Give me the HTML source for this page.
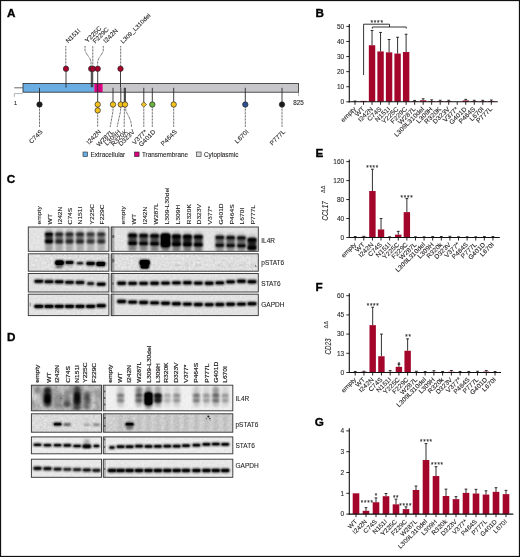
<!DOCTYPE html>
<html><head><meta charset="utf-8"><title>Figure</title>
<style>html,body{margin:0;padding:0;background:#fff;}svg{display:block;font-family:"Liberation Sans",sans-serif;}text{stroke:#231f20;stroke-width:0.1px;}</style>
</head><body>
<svg width="520" height="557" viewBox="0 0 520 557">
<defs>
<filter id="b1" x="-50%" y="-50%" width="200%" height="200%"><feGaussianBlur stdDeviation="0.9"/></filter>
<filter id="b2" x="-50%" y="-50%" width="200%" height="200%"><feGaussianBlur stdDeviation="1.5"/></filter>
<filter id="b0" x="-50%" y="-50%" width="200%" height="200%"><feGaussianBlur stdDeviation="0.6"/></filter>
</defs>
<rect x="0" y="0" width="520" height="557" fill="#fff"/>
<g opacity="0.999">
<rect x="0.5" y="0.5" width="519" height="556" fill="none" stroke="#111" stroke-width="1.25"/>
<text x="6.9" y="16.8" font-size="11.7" font-weight="bold" fill="#000" style="stroke:#000;stroke-width:0.35px">A</text>
<text x="315.6" y="16.8" font-size="11.7" font-weight="bold" fill="#000" style="stroke:#000;stroke-width:0.35px">B</text>
<text x="6.8" y="183.4" font-size="11.7" font-weight="bold" fill="#000" style="stroke:#000;stroke-width:0.35px">C</text>
<text x="6.9" y="341.3" font-size="11.7" font-weight="bold" fill="#000" style="stroke:#000;stroke-width:0.35px">D</text>
<text x="315.4" y="156.9" font-size="11.7" font-weight="bold" fill="#000" style="stroke:#000;stroke-width:0.35px">E</text>
<text x="315.5" y="291.3" font-size="11.7" font-weight="bold" fill="#000" style="stroke:#000;stroke-width:0.35px">F</text>
<text x="314.8" y="426" font-size="11.7" font-weight="bold" fill="#000" style="stroke:#000;stroke-width:0.35px">G</text>
<line x1="14.3" y1="87.8" x2="23" y2="87.8" stroke="#444" stroke-width="0.8"/>
<polyline points="14.3,97 14.3,93.6 22.8,93.6" fill="none" stroke="#444" stroke-width="0.4"/>
<text x="14" y="104.6" font-size="5.5" fill="#231f20">1</text>
<rect x="23" y="83.4" width="71.3" height="8.799999999999997" fill="#69ade2"/>
<rect x="94.3" y="83.4" width="8.5" height="8.799999999999997" fill="#d6007f"/>
<rect x="102.8" y="83.4" width="195.7" height="8.799999999999997" fill="#c7c6cb"/>
<rect x="23" y="83.4" width="275.5" height="8.799999999999997" fill="none" stroke="#2a2a2a" stroke-width="0.8"/>
<line x1="298.5" y1="92.2" x2="298.5" y2="96" stroke="#444" stroke-width="0.4"/>
<text x="293.3" y="104.7" font-size="6.3" fill="#231f20">825</text>
<line x1="66" y1="68.8" x2="66" y2="87.6" stroke="#2a2a2a" stroke-width="0.9"/>
<line x1="91.3" y1="68.8" x2="91.3" y2="87.3" stroke="#2a2a2a" stroke-width="1.0"/>
<line x1="92.7" y1="68.8" x2="92.7" y2="87.3" stroke="#2a2a2a" stroke-width="1.0"/>
<line x1="97.7" y1="68.8" x2="97.7" y2="110.5" stroke="#2a2a2a" stroke-width="0.9"/>
<line x1="120.5" y1="68.8" x2="120.5" y2="87.6" stroke="#2a2a2a" stroke-width="0.9"/>
<line x1="39.5" y1="87.8" x2="39.5" y2="104.5" stroke="#2a2a2a" stroke-width="0.9"/>
<line x1="113" y1="87.8" x2="113" y2="104.5" stroke="#2a2a2a" stroke-width="0.9"/>
<line x1="120.8" y1="87.8" x2="120.8" y2="104.5" stroke="#2a2a2a" stroke-width="0.9"/>
<line x1="124.3" y1="87.8" x2="124.3" y2="104.5" stroke="#2a2a2a" stroke-width="1.0"/>
<line x1="125.3" y1="87.8" x2="125.3" y2="104.5" stroke="#2a2a2a" stroke-width="1.0"/>
<line x1="143.8" y1="87.8" x2="143.8" y2="104.5" stroke="#2a2a2a" stroke-width="0.9"/>
<line x1="152.3" y1="87.8" x2="152.3" y2="104.5" stroke="#2a2a2a" stroke-width="0.9"/>
<line x1="173.7" y1="87.8" x2="173.7" y2="104.5" stroke="#2a2a2a" stroke-width="0.9"/>
<line x1="245.3" y1="87.8" x2="245.3" y2="104.5" stroke="#2a2a2a" stroke-width="0.9"/>
<line x1="282" y1="87.8" x2="282" y2="104.5" stroke="#2a2a2a" stroke-width="0.9"/>
<circle cx="66" cy="68.8" r="2.7" fill="#a9002b" stroke="#2a2a2a" stroke-width="0.7"/>
<circle cx="91.2" cy="68.8" r="2.7" fill="#a9002b" stroke="#2a2a2a" stroke-width="0.7"/>
<circle cx="92.9" cy="68.8" r="2.7" fill="#a9002b" stroke="#2a2a2a" stroke-width="0.7"/>
<circle cx="97.7" cy="68.8" r="2.7" fill="#a9002b" stroke="#2a2a2a" stroke-width="0.7"/>
<circle cx="120.5" cy="68.8" r="2.7" fill="#a9002b" stroke="#2a2a2a" stroke-width="0.7"/>
<circle cx="39.5" cy="104.5" r="2.7" fill="#1a1a1a" stroke="#2a2a2a" stroke-width="0.7"/>
<circle cx="97.7" cy="104.5" r="2.7" fill="#f5c31c" stroke="#2a2a2a" stroke-width="0.7"/>
<circle cx="97.7" cy="110.4" r="2.7" fill="#f5c31c" stroke="#2a2a2a" stroke-width="0.7"/>
<circle cx="113" cy="104.5" r="2.7" fill="#f5c31c" stroke="#2a2a2a" stroke-width="0.7"/>
<circle cx="120.8" cy="104.5" r="2.7" fill="#f5c31c" stroke="#2a2a2a" stroke-width="0.7"/>
<circle cx="125" cy="104.5" r="2.7" fill="#f5c31c" stroke="#2a2a2a" stroke-width="0.7"/>
<path d="M143.8,101.9 L146.6,104.5 L143.8,107.1 L141,104.5 Z" fill="#f5c31c" stroke="#2a2a2a" stroke-width="0.6"/>
<circle cx="152.3" cy="104.5" r="2.7" fill="#6cb33f" stroke="#2a2a2a" stroke-width="0.7"/>
<circle cx="173.7" cy="104.5" r="2.7" fill="#f5c31c" stroke="#2a2a2a" stroke-width="0.7"/>
<circle cx="245.3" cy="104.5" r="2.7" fill="#2d4f8e" stroke="#2a2a2a" stroke-width="0.7"/>
<circle cx="282" cy="104.5" r="2.7" fill="#1a1a1a" stroke="#2a2a2a" stroke-width="0.7"/>
<path d="M65.8,65.8 L65.8,46" fill="none" stroke="#111" stroke-width="0.8" stroke-dasharray="0.8,0.65"/>
<path d="M85,46 L85,50 C85.4,54 90.4,57 91,62 L91,65.5" fill="none" stroke="#111" stroke-width="0.8" stroke-dasharray="0.8,0.65"/>
<path d="M92.8,65.5 L92.8,46" fill="none" stroke="#111" stroke-width="0.8" stroke-dasharray="0.8,0.65"/>
<path d="M103.3,46 L103.3,50 C103,54 98.2,57 97.7,62 L97.7,65.5" fill="none" stroke="#111" stroke-width="0.8" stroke-dasharray="0.8,0.65"/>
<path d="M120.7,65.8 L120.7,46" fill="none" stroke="#111" stroke-width="0.8" stroke-dasharray="0.8,0.65"/>
<text transform="translate(68.2,43.6) rotate(-45) scale(1.07,1)" text-anchor="start" font-size="6.20" fill="#231f20">N151I</text>
<text transform="translate(87.6,43.0) rotate(-45) scale(1.07,1)" text-anchor="start" font-size="6.20" fill="#231f20">Y225C</text>
<text transform="translate(95.2,43.8) rotate(-45) scale(1.07,1)" text-anchor="start" font-size="6.20" fill="#231f20">F229C</text>
<text transform="translate(105.8,43.6) rotate(-45) scale(1.07,1)" text-anchor="start" font-size="6.20" fill="#231f20">I242N</text>
<text transform="translate(123.0,43.8) rotate(-45) scale(1.07,1)" text-anchor="start" font-size="5.83" fill="#231f20">L309_L310del</text>
<path d="M39.5,107.5 L39.5,127" fill="none" stroke="#111" stroke-width="0.8" stroke-dasharray="0.8,0.65"/>
<path d="M97.7,113.5 L97.7,127" fill="none" stroke="#111" stroke-width="0.8" stroke-dasharray="0.8,0.65"/>
<path d="M113,107.5 L113,111 L110.2,127" fill="none" stroke="#111" stroke-width="0.8" stroke-dasharray="0.8,0.65"/>
<path d="M120.6,107.5 L120.6,111 L117.1,127" fill="none" stroke="#111" stroke-width="0.8" stroke-dasharray="0.8,0.65"/>
<path d="M124.4,107.5 L124.2,127" fill="none" stroke="#111" stroke-width="0.8" stroke-dasharray="0.8,0.65"/>
<path d="M125.6,107.5 L125.8,111 C129,117 131.5,121 131.5,127" fill="none" stroke="#111" stroke-width="0.8" stroke-dasharray="0.8,0.65"/>
<path d="M143.8,107.5 L143.8,127" fill="none" stroke="#111" stroke-width="0.8" stroke-dasharray="0.8,0.65"/>
<path d="M152.3,107.5 L152.3,127" fill="none" stroke="#111" stroke-width="0.8" stroke-dasharray="0.8,0.65"/>
<path d="M173.7,107.5 L173.7,127" fill="none" stroke="#111" stroke-width="0.8" stroke-dasharray="0.8,0.65"/>
<path d="M245.3,107.5 L245.3,127" fill="none" stroke="#111" stroke-width="0.8" stroke-dasharray="0.8,0.65"/>
<path d="M282,107.5 L282,127" fill="none" stroke="#111" stroke-width="0.8" stroke-dasharray="0.8,0.65"/>
<text transform="translate(43.2,132.2) rotate(-45) scale(1.07,1)" text-anchor="end" font-size="6.20" fill="#231f20">C74S</text>
<text transform="translate(101.4,132.2) rotate(-45) scale(1.07,1)" text-anchor="end" font-size="6.20" fill="#231f20">I242N</text>
<text transform="translate(113.9,132.2) rotate(-45) scale(1.07,1)" text-anchor="end" font-size="6.20" fill="#231f20">W287L</text>
<text transform="translate(120.8,132.2) rotate(-45) scale(1.07,1)" text-anchor="end" font-size="6.20" fill="#231f20">L309H</text>
<text transform="translate(127.9,132.2) rotate(-45) scale(1.07,1)" text-anchor="end" font-size="6.20" fill="#231f20">R320K</text>
<text transform="translate(135.2,132.2) rotate(-45) scale(1.07,1)" text-anchor="end" font-size="6.20" fill="#231f20">D323V</text>
<text transform="translate(147.5,132.2) rotate(-45) scale(1.07,1)" text-anchor="end" font-size="6.20" fill="#231f20">V377*</text>
<text transform="translate(156.0,132.2) rotate(-45) scale(1.07,1)" text-anchor="end" font-size="6.20" fill="#231f20">G401D</text>
<text transform="translate(177.39999999999998,132.2) rotate(-45) scale(1.07,1)" text-anchor="end" font-size="6.20" fill="#231f20">P464S</text>
<text transform="translate(249.0,132.2) rotate(-45) scale(1.07,1)" text-anchor="end" font-size="6.20" fill="#231f20">L670I</text>
<text transform="translate(285.7,132.2) rotate(-45) scale(1.07,1)" text-anchor="end" font-size="6.20" fill="#231f20">P777L</text>
<rect x="83" y="152" width="4.6" height="4.6" fill="#69ade2" stroke="#2a2a2a" stroke-width="0.6"/>
<text x="90.5" y="157" font-size="6.3" fill="#231f20">Extracellular</text>
<rect x="134.5" y="152" width="4.6" height="4.6" fill="#d6007f" stroke="#2a2a2a" stroke-width="0.6"/>
<text x="142.0" y="157" font-size="6.3" fill="#231f20">Transmembrane</text>
<rect x="196.5" y="152" width="4.6" height="4.6" fill="#d8d8db" stroke="#2a2a2a" stroke-width="0.6"/>
<text x="204.0" y="157" font-size="6.3" fill="#231f20">Cytoplasmic</text>
<line x1="346.3" y1="101.8" x2="349.3" y2="101.8" stroke="#111" stroke-width="0.9"/>
<text x="344.2" y="104.0" text-anchor="end" font-size="6.5" fill="#231f20">0</text>
<line x1="346.3" y1="86.72" x2="349.3" y2="86.72" stroke="#111" stroke-width="0.9"/>
<text x="344.2" y="88.92" text-anchor="end" font-size="6.5" fill="#231f20">10</text>
<line x1="346.3" y1="71.64" x2="349.3" y2="71.64" stroke="#111" stroke-width="0.9"/>
<text x="344.2" y="73.84" text-anchor="end" font-size="6.5" fill="#231f20">20</text>
<line x1="346.3" y1="56.559999999999995" x2="349.3" y2="56.559999999999995" stroke="#111" stroke-width="0.9"/>
<text x="344.2" y="58.76" text-anchor="end" font-size="6.5" fill="#231f20">30</text>
<line x1="346.3" y1="41.48" x2="349.3" y2="41.48" stroke="#111" stroke-width="0.9"/>
<text x="344.2" y="43.68" text-anchor="end" font-size="6.5" fill="#231f20">40</text>
<line x1="346.3" y1="26.39999999999999" x2="349.3" y2="26.39999999999999" stroke="#111" stroke-width="0.9"/>
<text x="344.2" y="28.59999999999999" text-anchor="end" font-size="6.5" fill="#231f20">50</text>
<line x1="355.0" y1="101.8" x2="355.0" y2="104.8" stroke="#111" stroke-width="0.9"/>
<rect x="351.8" y="101.57379999999999" width="6.4" height="0.22619999999999998" fill="#a4062b"/>
<line x1="355.0" y1="101.57379999999999" x2="355.0" y2="101.04599999999999" stroke="#1a1a1a" stroke-width="0.9"/>
<line x1="353.6" y1="101.04599999999999" x2="356.4" y2="101.04599999999999" stroke="#1a1a1a" stroke-width="0.9"/>
<text transform="translate(356.4,109.39999999999999) rotate(-45) scale(1.07,1)" text-anchor="end" font-size="6.39" fill="#231f20">empty</text>
<line x1="363.52" y1="101.8" x2="363.52" y2="104.8" stroke="#111" stroke-width="0.9"/>
<rect x="360.32" y="100.8952" width="6.4" height="0.9047999999999999" fill="#a4062b"/>
<text transform="translate(364.91999999999996,109.39999999999999) rotate(-45) scale(1.07,1)" text-anchor="end" font-size="6.39" fill="#231f20">WT</text>
<line x1="372.04" y1="101.8" x2="372.04" y2="104.8" stroke="#111" stroke-width="0.9"/>
<rect x="368.84000000000003" y="45.25" width="6.4" height="56.55" fill="#a4062b"/>
<line x1="372.04" y1="45.25" x2="372.04" y2="30.471599999999995" stroke="#1a1a1a" stroke-width="0.9"/>
<line x1="370.64000000000004" y1="30.471599999999995" x2="373.44" y2="30.471599999999995" stroke="#1a1a1a" stroke-width="0.9"/>
<text transform="translate(373.44,109.39999999999999) rotate(-45) scale(1.07,1)" text-anchor="end" font-size="6.39" fill="#231f20">I242N</text>
<line x1="380.56" y1="101.8" x2="380.56" y2="104.8" stroke="#111" stroke-width="0.9"/>
<rect x="377.36" y="51.4328" width="6.4" height="50.3672" fill="#a4062b"/>
<line x1="380.56" y1="51.4328" x2="380.56" y2="32.432" stroke="#1a1a1a" stroke-width="0.9"/>
<line x1="379.16" y1="32.432" x2="381.96" y2="32.432" stroke="#1a1a1a" stroke-width="0.9"/>
<text transform="translate(381.96,109.39999999999999) rotate(-45) scale(1.07,1)" text-anchor="end" font-size="6.39" fill="#231f20">C74S</text>
<line x1="389.08" y1="101.8" x2="389.08" y2="104.8" stroke="#111" stroke-width="0.9"/>
<rect x="385.88" y="52.3376" width="6.4" height="49.462399999999995" fill="#a4062b"/>
<line x1="389.08" y1="52.3376" x2="389.08" y2="39.519600000000004" stroke="#1a1a1a" stroke-width="0.9"/>
<line x1="387.68" y1="39.519600000000004" x2="390.47999999999996" y2="39.519600000000004" stroke="#1a1a1a" stroke-width="0.9"/>
<text transform="translate(390.47999999999996,109.39999999999999) rotate(-45) scale(1.07,1)" text-anchor="end" font-size="6.39" fill="#231f20">N151I</text>
<line x1="397.6" y1="101.8" x2="397.6" y2="104.8" stroke="#111" stroke-width="0.9"/>
<rect x="394.40000000000003" y="53.544" width="6.4" height="48.256" fill="#a4062b"/>
<line x1="397.6" y1="53.544" x2="397.6" y2="37.2576" stroke="#1a1a1a" stroke-width="0.9"/>
<line x1="396.20000000000005" y1="37.2576" x2="399.0" y2="37.2576" stroke="#1a1a1a" stroke-width="0.9"/>
<text transform="translate(399.0,109.39999999999999) rotate(-45) scale(1.07,1)" text-anchor="end" font-size="6.39" fill="#231f20">Y225C</text>
<line x1="406.12" y1="101.8" x2="406.12" y2="104.8" stroke="#111" stroke-width="0.9"/>
<rect x="402.92" y="52.035999999999994" width="6.4" height="49.764" fill="#a4062b"/>
<line x1="406.12" y1="52.035999999999994" x2="406.12" y2="34.241600000000005" stroke="#1a1a1a" stroke-width="0.9"/>
<line x1="404.72" y1="34.241600000000005" x2="407.52" y2="34.241600000000005" stroke="#1a1a1a" stroke-width="0.9"/>
<text transform="translate(407.52,109.39999999999999) rotate(-45) scale(1.07,1)" text-anchor="end" font-size="6.39" fill="#231f20">F229C</text>
<line x1="414.64" y1="101.8" x2="414.64" y2="104.8" stroke="#111" stroke-width="0.9"/>
<rect x="411.44" y="101.3476" width="6.4" height="0.45239999999999997" fill="#a4062b"/>
<line x1="414.64" y1="101.3476" x2="414.64" y2="100.44279999999999" stroke="#1a1a1a" stroke-width="0.9"/>
<line x1="413.24" y1="100.44279999999999" x2="416.03999999999996" y2="100.44279999999999" stroke="#1a1a1a" stroke-width="0.9"/>
<text transform="translate(416.03999999999996,109.39999999999999) rotate(-45) scale(1.07,1)" text-anchor="end" font-size="6.39" fill="#231f20">W287L</text>
<line x1="423.15999999999997" y1="101.8" x2="423.15999999999997" y2="104.8" stroke="#111" stroke-width="0.9"/>
<rect x="419.96" y="100.292" width="6.4" height="1.508" fill="#a4062b"/>
<line x1="423.15999999999997" y1="100.292" x2="423.15999999999997" y2="98.78399999999999" stroke="#1a1a1a" stroke-width="0.9"/>
<line x1="421.76" y1="98.78399999999999" x2="424.55999999999995" y2="98.78399999999999" stroke="#1a1a1a" stroke-width="0.9"/>
<text transform="translate(424.55999999999995,109.39999999999999) rotate(-45) scale(1.07,1)" text-anchor="end" font-size="6.39" fill="#231f20">L309L310del</text>
<line x1="431.68" y1="101.8" x2="431.68" y2="104.8" stroke="#111" stroke-width="0.9"/>
<rect x="428.48" y="101.04599999999999" width="6.4" height="0.754" fill="#a4062b"/>
<line x1="431.68" y1="101.04599999999999" x2="431.68" y2="99.83959999999999" stroke="#1a1a1a" stroke-width="0.9"/>
<line x1="430.28000000000003" y1="99.83959999999999" x2="433.08" y2="99.83959999999999" stroke="#1a1a1a" stroke-width="0.9"/>
<text transform="translate(433.08,109.39999999999999) rotate(-45) scale(1.07,1)" text-anchor="end" font-size="6.39" fill="#231f20">L309H</text>
<line x1="440.2" y1="101.8" x2="440.2" y2="104.8" stroke="#111" stroke-width="0.9"/>
<rect x="437.0" y="101.1968" width="6.4" height="0.6032000000000001" fill="#a4062b"/>
<line x1="440.2" y1="101.1968" x2="440.2" y2="100.292" stroke="#1a1a1a" stroke-width="0.9"/>
<line x1="438.8" y1="100.292" x2="441.59999999999997" y2="100.292" stroke="#1a1a1a" stroke-width="0.9"/>
<text transform="translate(441.59999999999997,109.39999999999999) rotate(-45) scale(1.07,1)" text-anchor="end" font-size="6.39" fill="#231f20">R320K</text>
<line x1="448.72" y1="101.8" x2="448.72" y2="104.8" stroke="#111" stroke-width="0.9"/>
<rect x="445.52000000000004" y="101.1968" width="6.4" height="0.6032000000000001" fill="#a4062b"/>
<line x1="448.72" y1="101.1968" x2="448.72" y2="100.292" stroke="#1a1a1a" stroke-width="0.9"/>
<line x1="447.32000000000005" y1="100.292" x2="450.12" y2="100.292" stroke="#1a1a1a" stroke-width="0.9"/>
<text transform="translate(450.12,109.39999999999999) rotate(-45) scale(1.07,1)" text-anchor="end" font-size="6.39" fill="#231f20">D323V</text>
<line x1="457.24" y1="101.8" x2="457.24" y2="104.8" stroke="#111" stroke-width="0.9"/>
<text transform="translate(458.64,109.39999999999999) rotate(-45) scale(1.07,1)" text-anchor="end" font-size="6.39" fill="#231f20">V377*</text>
<line x1="465.76" y1="101.8" x2="465.76" y2="104.8" stroke="#111" stroke-width="0.9"/>
<rect x="462.56" y="100.44279999999999" width="6.4" height="1.3572" fill="#a4062b"/>
<line x1="465.76" y1="100.44279999999999" x2="465.76" y2="99.38719999999999" stroke="#1a1a1a" stroke-width="0.9"/>
<line x1="464.36" y1="99.38719999999999" x2="467.15999999999997" y2="99.38719999999999" stroke="#1a1a1a" stroke-width="0.9"/>
<text transform="translate(467.15999999999997,109.39999999999999) rotate(-45) scale(1.07,1)" text-anchor="end" font-size="6.39" fill="#231f20">G401D</text>
<line x1="474.28" y1="101.8" x2="474.28" y2="104.8" stroke="#111" stroke-width="0.9"/>
<rect x="471.08" y="101.1968" width="6.4" height="0.6032000000000001" fill="#a4062b"/>
<line x1="474.28" y1="101.1968" x2="474.28" y2="100.292" stroke="#1a1a1a" stroke-width="0.9"/>
<line x1="472.88" y1="100.292" x2="475.67999999999995" y2="100.292" stroke="#1a1a1a" stroke-width="0.9"/>
<text transform="translate(475.67999999999995,109.39999999999999) rotate(-45) scale(1.07,1)" text-anchor="end" font-size="6.39" fill="#231f20">P464S</text>
<line x1="482.8" y1="101.8" x2="482.8" y2="104.8" stroke="#111" stroke-width="0.9"/>
<rect x="479.6" y="101.1968" width="6.4" height="0.6032000000000001" fill="#a4062b"/>
<line x1="482.8" y1="101.1968" x2="482.8" y2="100.292" stroke="#1a1a1a" stroke-width="0.9"/>
<line x1="481.40000000000003" y1="100.292" x2="484.2" y2="100.292" stroke="#1a1a1a" stroke-width="0.9"/>
<text transform="translate(484.2,109.39999999999999) rotate(-45) scale(1.07,1)" text-anchor="end" font-size="6.39" fill="#231f20">L670I</text>
<line x1="491.32" y1="101.8" x2="491.32" y2="104.8" stroke="#111" stroke-width="0.9"/>
<rect x="488.12" y="101.04599999999999" width="6.4" height="0.754" fill="#a4062b"/>
<line x1="491.32" y1="101.04599999999999" x2="491.32" y2="99.9904" stroke="#1a1a1a" stroke-width="0.9"/>
<line x1="489.92" y1="99.9904" x2="492.71999999999997" y2="99.9904" stroke="#1a1a1a" stroke-width="0.9"/>
<text transform="translate(492.71999999999997,109.39999999999999) rotate(-45) scale(1.07,1)" text-anchor="end" font-size="6.39" fill="#231f20">P777L</text>
<line x1="349.3" y1="24" x2="349.3" y2="102.39999999999999" stroke="#111" stroke-width="1.1"/>
<line x1="348.75" y1="101.8" x2="497.8" y2="101.8" stroke="#111" stroke-width="1.1"/>
<polyline points="363.6,75 363.6,24.2 389.5,24.2 389.5,27" fill="none" stroke="#111" stroke-width="0.85"/>
<polyline points="372.3,28.6 372.3,27 406.2,27 406.2,28.6" fill="none" stroke="#111" stroke-width="0.85"/>
<text x="377.1" y="24.9" text-anchor="middle" font-size="6.6" fill="#231f20" letter-spacing="0.75">****</text>
<line x1="346.3" y1="237.5" x2="349.3" y2="237.5" stroke="#111" stroke-width="0.9"/>
<text x="344.2" y="239.7" text-anchor="end" font-size="6.5" fill="#231f20">0</text>
<line x1="346.3" y1="218.53" x2="349.3" y2="218.53" stroke="#111" stroke-width="0.9"/>
<text x="344.2" y="220.73" text-anchor="end" font-size="6.5" fill="#231f20">40</text>
<line x1="346.3" y1="199.56" x2="349.3" y2="199.56" stroke="#111" stroke-width="0.9"/>
<text x="344.2" y="201.76" text-anchor="end" font-size="6.5" fill="#231f20">80</text>
<line x1="346.3" y1="180.59" x2="349.3" y2="180.59" stroke="#111" stroke-width="0.9"/>
<text x="344.2" y="182.79" text-anchor="end" font-size="6.5" fill="#231f20">120</text>
<line x1="346.3" y1="161.62" x2="349.3" y2="161.62" stroke="#111" stroke-width="0.9"/>
<text x="344.2" y="163.82" text-anchor="end" font-size="6.5" fill="#231f20">160</text>
<line x1="355.2" y1="237.5" x2="355.2" y2="240.5" stroke="#111" stroke-width="0.9"/>
<rect x="352.0" y="237.262875" width="6.4" height="0.23712499999999997" fill="#a4062b"/>
<line x1="355.2" y1="237.262875" x2="355.2" y2="236.5515" stroke="#1a1a1a" stroke-width="0.9"/>
<line x1="353.8" y1="236.5515" x2="356.59999999999997" y2="236.5515" stroke="#1a1a1a" stroke-width="0.9"/>
<text transform="translate(356.59999999999997,245.0) rotate(-45) scale(1.07,1)" text-anchor="end" font-size="6.30" fill="#231f20">empty</text>
<line x1="363.81" y1="237.5" x2="363.81" y2="240.5" stroke="#111" stroke-width="0.9"/>
<rect x="360.61" y="236.788625" width="6.4" height="0.7113749999999999" fill="#a4062b"/>
<line x1="363.81" y1="236.788625" x2="363.81" y2="236.314375" stroke="#1a1a1a" stroke-width="0.9"/>
<line x1="362.41" y1="236.314375" x2="365.21" y2="236.314375" stroke="#1a1a1a" stroke-width="0.9"/>
<text transform="translate(365.21,245.0) rotate(-45) scale(1.07,1)" text-anchor="end" font-size="6.30" fill="#231f20">WT</text>
<line x1="372.41999999999996" y1="237.5" x2="372.41999999999996" y2="240.5" stroke="#111" stroke-width="0.9"/>
<rect x="369.21999999999997" y="191.0235" width="6.4" height="46.476499999999994" fill="#a4062b"/>
<line x1="372.41999999999996" y1="191.0235" x2="372.41999999999996" y2="169.20800000000003" stroke="#1a1a1a" stroke-width="0.9"/>
<line x1="371.02" y1="169.20800000000003" x2="373.81999999999994" y2="169.20800000000003" stroke="#1a1a1a" stroke-width="0.9"/>
<text transform="translate(373.81999999999994,245.0) rotate(-45) scale(1.07,1)" text-anchor="end" font-size="6.30" fill="#231f20">I242N</text>
<line x1="381.03" y1="237.5" x2="381.03" y2="240.5" stroke="#111" stroke-width="0.9"/>
<rect x="377.83" y="229.43775" width="6.4" height="8.062249999999999" fill="#a4062b"/>
<line x1="381.03" y1="229.43775" x2="381.03" y2="218.53" stroke="#1a1a1a" stroke-width="0.9"/>
<line x1="379.63" y1="218.53" x2="382.42999999999995" y2="218.53" stroke="#1a1a1a" stroke-width="0.9"/>
<text transform="translate(382.42999999999995,245.0) rotate(-45) scale(1.07,1)" text-anchor="end" font-size="6.30" fill="#231f20">C74S</text>
<line x1="389.64" y1="237.5" x2="389.64" y2="240.5" stroke="#111" stroke-width="0.9"/>
<rect x="386.44" y="237.357725" width="6.4" height="0.14227499999999998" fill="#a4062b"/>
<line x1="389.64" y1="237.357725" x2="389.64" y2="236.788625" stroke="#1a1a1a" stroke-width="0.9"/>
<line x1="388.24" y1="236.788625" x2="391.03999999999996" y2="236.788625" stroke="#1a1a1a" stroke-width="0.9"/>
<text transform="translate(391.03999999999996,245.0) rotate(-45) scale(1.07,1)" text-anchor="end" font-size="6.30" fill="#231f20">N151I</text>
<line x1="398.25" y1="237.5" x2="398.25" y2="240.5" stroke="#111" stroke-width="0.9"/>
<rect x="395.05" y="234.6545" width="6.4" height="2.8454999999999995" fill="#a4062b"/>
<line x1="398.25" y1="234.6545" x2="398.25" y2="231.33475" stroke="#1a1a1a" stroke-width="0.9"/>
<line x1="396.85" y1="231.33475" x2="399.65" y2="231.33475" stroke="#1a1a1a" stroke-width="0.9"/>
<text transform="translate(399.65,245.0) rotate(-45) scale(1.07,1)" text-anchor="end" font-size="6.30" fill="#231f20">Y225C</text>
<line x1="406.86" y1="237.5" x2="406.86" y2="240.5" stroke="#111" stroke-width="0.9"/>
<rect x="403.66" y="212.127625" width="6.4" height="25.372374999999998" fill="#a4062b"/>
<line x1="406.86" y1="212.127625" x2="406.86" y2="198.6115" stroke="#1a1a1a" stroke-width="0.9"/>
<line x1="405.46000000000004" y1="198.6115" x2="408.26" y2="198.6115" stroke="#1a1a1a" stroke-width="0.9"/>
<text transform="translate(408.26,245.0) rotate(-45) scale(1.07,1)" text-anchor="end" font-size="6.30" fill="#231f20">F229C</text>
<line x1="415.46999999999997" y1="237.5" x2="415.46999999999997" y2="240.5" stroke="#111" stroke-width="0.9"/>
<rect x="412.27" y="237.357725" width="6.4" height="0.14227499999999998" fill="#a4062b"/>
<line x1="415.46999999999997" y1="237.357725" x2="415.46999999999997" y2="236.788625" stroke="#1a1a1a" stroke-width="0.9"/>
<line x1="414.07" y1="236.788625" x2="416.86999999999995" y2="236.788625" stroke="#1a1a1a" stroke-width="0.9"/>
<text transform="translate(416.86999999999995,245.0) rotate(-45) scale(1.07,1)" text-anchor="end" font-size="6.30" fill="#231f20">W287L</text>
<line x1="424.08" y1="237.5" x2="424.08" y2="240.5" stroke="#111" stroke-width="0.9"/>
<rect x="420.88" y="237.357725" width="6.4" height="0.14227499999999998" fill="#a4062b"/>
<line x1="424.08" y1="237.357725" x2="424.08" y2="236.788625" stroke="#1a1a1a" stroke-width="0.9"/>
<line x1="422.68" y1="236.788625" x2="425.47999999999996" y2="236.788625" stroke="#1a1a1a" stroke-width="0.9"/>
<text transform="translate(425.47999999999996,245.0) rotate(-45) scale(1.07,1)" text-anchor="end" font-size="6.30" fill="#231f20">L309L310del</text>
<line x1="432.69" y1="237.5" x2="432.69" y2="240.5" stroke="#111" stroke-width="0.9"/>
<rect x="429.49" y="237.3103" width="6.4" height="0.18969999999999998" fill="#a4062b"/>
<line x1="432.69" y1="237.3103" x2="432.69" y2="236.5515" stroke="#1a1a1a" stroke-width="0.9"/>
<line x1="431.29" y1="236.5515" x2="434.09" y2="236.5515" stroke="#1a1a1a" stroke-width="0.9"/>
<text transform="translate(434.09,245.0) rotate(-45) scale(1.07,1)" text-anchor="end" font-size="6.30" fill="#231f20">L309H</text>
<line x1="441.29999999999995" y1="237.5" x2="441.29999999999995" y2="240.5" stroke="#111" stroke-width="0.9"/>
<rect x="438.09999999999997" y="237.3103" width="6.4" height="0.18969999999999998" fill="#a4062b"/>
<line x1="441.29999999999995" y1="237.3103" x2="441.29999999999995" y2="236.5515" stroke="#1a1a1a" stroke-width="0.9"/>
<line x1="439.9" y1="236.5515" x2="442.69999999999993" y2="236.5515" stroke="#1a1a1a" stroke-width="0.9"/>
<text transform="translate(442.69999999999993,245.0) rotate(-45) scale(1.07,1)" text-anchor="end" font-size="6.30" fill="#231f20">R320k</text>
<line x1="449.90999999999997" y1="237.5" x2="449.90999999999997" y2="240.5" stroke="#111" stroke-width="0.9"/>
<rect x="446.71" y="237.262875" width="6.4" height="0.23712499999999997" fill="#a4062b"/>
<line x1="449.90999999999997" y1="237.262875" x2="449.90999999999997" y2="236.314375" stroke="#1a1a1a" stroke-width="0.9"/>
<line x1="448.51" y1="236.314375" x2="451.30999999999995" y2="236.314375" stroke="#1a1a1a" stroke-width="0.9"/>
<text transform="translate(451.30999999999995,245.0) rotate(-45) scale(1.07,1)" text-anchor="end" font-size="6.30" fill="#231f20">D323V</text>
<line x1="458.52" y1="237.5" x2="458.52" y2="240.5" stroke="#111" stroke-width="0.9"/>
<rect x="455.32" y="237.40515" width="6.4" height="0.09484999999999999" fill="#a4062b"/>
<line x1="458.52" y1="237.40515" x2="458.52" y2="236.788625" stroke="#1a1a1a" stroke-width="0.9"/>
<line x1="457.12" y1="236.788625" x2="459.91999999999996" y2="236.788625" stroke="#1a1a1a" stroke-width="0.9"/>
<text transform="translate(459.91999999999996,245.0) rotate(-45) scale(1.07,1)" text-anchor="end" font-size="6.30" fill="#231f20">V377*</text>
<line x1="467.13" y1="237.5" x2="467.13" y2="240.5" stroke="#111" stroke-width="0.9"/>
<rect x="463.93" y="237.357725" width="6.4" height="0.14227499999999998" fill="#a4062b"/>
<line x1="467.13" y1="237.357725" x2="467.13" y2="236.788625" stroke="#1a1a1a" stroke-width="0.9"/>
<line x1="465.73" y1="236.788625" x2="468.53" y2="236.788625" stroke="#1a1a1a" stroke-width="0.9"/>
<text transform="translate(468.53,245.0) rotate(-45) scale(1.07,1)" text-anchor="end" font-size="6.30" fill="#231f20">P464S</text>
<line x1="475.74" y1="237.5" x2="475.74" y2="240.5" stroke="#111" stroke-width="0.9"/>
<rect x="472.54" y="237.357725" width="6.4" height="0.14227499999999998" fill="#a4062b"/>
<line x1="475.74" y1="237.357725" x2="475.74" y2="236.788625" stroke="#1a1a1a" stroke-width="0.9"/>
<line x1="474.34000000000003" y1="236.788625" x2="477.14" y2="236.788625" stroke="#1a1a1a" stroke-width="0.9"/>
<text transform="translate(477.14,245.0) rotate(-45) scale(1.07,1)" text-anchor="end" font-size="6.30" fill="#231f20">P777L</text>
<line x1="484.34999999999997" y1="237.5" x2="484.34999999999997" y2="240.5" stroke="#111" stroke-width="0.9"/>
<rect x="481.15" y="237.3103" width="6.4" height="0.18969999999999998" fill="#a4062b"/>
<line x1="484.34999999999997" y1="237.3103" x2="484.34999999999997" y2="236.5515" stroke="#1a1a1a" stroke-width="0.9"/>
<line x1="482.95" y1="236.5515" x2="485.74999999999994" y2="236.5515" stroke="#1a1a1a" stroke-width="0.9"/>
<text transform="translate(485.74999999999994,245.0) rotate(-45) scale(1.07,1)" text-anchor="end" font-size="6.30" fill="#231f20">G401D</text>
<line x1="492.96" y1="237.5" x2="492.96" y2="240.5" stroke="#111" stroke-width="0.9"/>
<rect x="489.76" y="237.3103" width="6.4" height="0.18969999999999998" fill="#a4062b"/>
<line x1="492.96" y1="237.3103" x2="492.96" y2="236.5515" stroke="#1a1a1a" stroke-width="0.9"/>
<line x1="491.56" y1="236.5515" x2="494.35999999999996" y2="236.5515" stroke="#1a1a1a" stroke-width="0.9"/>
<text transform="translate(494.35999999999996,245.0) rotate(-45) scale(1.07,1)" text-anchor="end" font-size="6.30" fill="#231f20">L670I</text>
<line x1="349.3" y1="159.6" x2="349.3" y2="238.1" stroke="#111" stroke-width="1.1"/>
<line x1="348.75" y1="237.5" x2="499.8" y2="237.5" stroke="#111" stroke-width="1.1"/>
<text x="372.6" y="169.6" text-anchor="middle" font-size="6.3" fill="#231f20" letter-spacing="0.75">****</text>
<text x="407.0" y="199.8" text-anchor="middle" font-size="6.3" fill="#231f20" letter-spacing="0.75">****</text>
<text transform="translate(327.5,220.6) rotate(-90) scale(0.74,1)" font-size="8.4" font-style="italic" fill="#231f20">CCL17</text>
<text transform="translate(324.5,193.0) rotate(-90) scale(0.92,1)" font-size="6" fill="#3a3a3a">ΔΔ</text>
<line x1="346.3" y1="372.5" x2="349.3" y2="372.5" stroke="#111" stroke-width="0.9"/>
<text x="344.2" y="374.7" text-anchor="end" font-size="6.5" fill="#231f20">0</text>
<line x1="346.3" y1="353.3" x2="349.3" y2="353.3" stroke="#111" stroke-width="0.9"/>
<text x="344.2" y="355.5" text-anchor="end" font-size="6.5" fill="#231f20">13</text>
<line x1="346.3" y1="334.1" x2="349.3" y2="334.1" stroke="#111" stroke-width="0.9"/>
<text x="344.2" y="336.3" text-anchor="end" font-size="6.5" fill="#231f20">30</text>
<line x1="346.3" y1="314.9" x2="349.3" y2="314.9" stroke="#111" stroke-width="0.9"/>
<text x="344.2" y="317.09999999999997" text-anchor="end" font-size="6.5" fill="#231f20">45</text>
<line x1="346.3" y1="295.7" x2="349.3" y2="295.7" stroke="#111" stroke-width="0.9"/>
<text x="344.2" y="297.9" text-anchor="end" font-size="6.5" fill="#231f20">60</text>
<line x1="355.2" y1="372.5" x2="355.2" y2="375.5" stroke="#111" stroke-width="0.9"/>
<rect x="352.0" y="372.244" width="6.4" height="0.256" fill="#a4062b"/>
<line x1="355.2" y1="372.244" x2="355.2" y2="371.476" stroke="#1a1a1a" stroke-width="0.9"/>
<line x1="353.8" y1="371.476" x2="356.59999999999997" y2="371.476" stroke="#1a1a1a" stroke-width="0.9"/>
<text transform="translate(356.59999999999997,380.0) rotate(-45) scale(1.07,1)" text-anchor="end" font-size="6.30" fill="#231f20">empty</text>
<line x1="363.94" y1="372.5" x2="363.94" y2="375.5" stroke="#111" stroke-width="0.9"/>
<rect x="360.74" y="371.732" width="6.4" height="0.768" fill="#a4062b"/>
<line x1="363.94" y1="371.732" x2="363.94" y2="371.22" stroke="#1a1a1a" stroke-width="0.9"/>
<line x1="362.54" y1="371.22" x2="365.34" y2="371.22" stroke="#1a1a1a" stroke-width="0.9"/>
<text transform="translate(365.34,380.0) rotate(-45) scale(1.07,1)" text-anchor="end" font-size="6.30" fill="#231f20">WT</text>
<line x1="372.68" y1="372.5" x2="372.68" y2="375.5" stroke="#111" stroke-width="0.9"/>
<rect x="369.48" y="325.14" width="6.4" height="47.36" fill="#a4062b"/>
<line x1="372.68" y1="325.14" x2="372.68" y2="307.22" stroke="#1a1a1a" stroke-width="0.9"/>
<line x1="371.28000000000003" y1="307.22" x2="374.08" y2="307.22" stroke="#1a1a1a" stroke-width="0.9"/>
<text transform="translate(374.08,380.0) rotate(-45) scale(1.07,1)" text-anchor="end" font-size="6.30" fill="#231f20">I242N</text>
<line x1="381.41999999999996" y1="372.5" x2="381.41999999999996" y2="375.5" stroke="#111" stroke-width="0.9"/>
<rect x="378.21999999999997" y="356.244" width="6.4" height="16.256" fill="#a4062b"/>
<line x1="381.41999999999996" y1="356.244" x2="381.41999999999996" y2="334.1" stroke="#1a1a1a" stroke-width="0.9"/>
<line x1="380.02" y1="334.1" x2="382.81999999999994" y2="334.1" stroke="#1a1a1a" stroke-width="0.9"/>
<text transform="translate(382.81999999999994,380.0) rotate(-45) scale(1.07,1)" text-anchor="end" font-size="6.30" fill="#231f20">C74S</text>
<line x1="390.15999999999997" y1="372.5" x2="390.15999999999997" y2="375.5" stroke="#111" stroke-width="0.9"/>
<rect x="386.96" y="371.86" width="6.4" height="0.64" fill="#a4062b"/>
<line x1="390.15999999999997" y1="371.86" x2="390.15999999999997" y2="370.58" stroke="#1a1a1a" stroke-width="0.9"/>
<line x1="388.76" y1="370.58" x2="391.55999999999995" y2="370.58" stroke="#1a1a1a" stroke-width="0.9"/>
<text transform="translate(391.55999999999995,380.0) rotate(-45) scale(1.07,1)" text-anchor="end" font-size="6.30" fill="#231f20">N151I</text>
<line x1="398.9" y1="372.5" x2="398.9" y2="375.5" stroke="#111" stroke-width="0.9"/>
<rect x="395.7" y="366.868" width="6.4" height="5.632000000000001" fill="#a4062b"/>
<line x1="398.9" y1="366.868" x2="398.9" y2="364.18" stroke="#1a1a1a" stroke-width="0.9"/>
<line x1="397.5" y1="364.18" x2="400.29999999999995" y2="364.18" stroke="#1a1a1a" stroke-width="0.9"/>
<text transform="translate(400.29999999999995,380.0) rotate(-45) scale(1.07,1)" text-anchor="end" font-size="6.30" fill="#231f20">Y225C</text>
<line x1="407.64" y1="372.5" x2="407.64" y2="375.5" stroke="#111" stroke-width="0.9"/>
<rect x="404.44" y="350.74" width="6.4" height="21.76" fill="#a4062b"/>
<line x1="407.64" y1="350.74" x2="407.64" y2="338.836" stroke="#1a1a1a" stroke-width="0.9"/>
<line x1="406.24" y1="338.836" x2="409.03999999999996" y2="338.836" stroke="#1a1a1a" stroke-width="0.9"/>
<text transform="translate(409.03999999999996,380.0) rotate(-45) scale(1.07,1)" text-anchor="end" font-size="6.30" fill="#231f20">F229C</text>
<line x1="416.38" y1="372.5" x2="416.38" y2="375.5" stroke="#111" stroke-width="0.9"/>
<rect x="413.18" y="371.86" width="6.4" height="0.64" fill="#a4062b"/>
<line x1="416.38" y1="371.86" x2="416.38" y2="371.22" stroke="#1a1a1a" stroke-width="0.9"/>
<line x1="414.98" y1="371.22" x2="417.78" y2="371.22" stroke="#1a1a1a" stroke-width="0.9"/>
<text transform="translate(417.78,380.0) rotate(-45) scale(1.07,1)" text-anchor="end" font-size="6.30" fill="#231f20">W287L</text>
<line x1="425.12" y1="372.5" x2="425.12" y2="375.5" stroke="#111" stroke-width="0.9"/>
<rect x="421.92" y="372.244" width="6.4" height="0.256" fill="#a4062b"/>
<line x1="425.12" y1="372.244" x2="425.12" y2="371.476" stroke="#1a1a1a" stroke-width="0.9"/>
<line x1="423.72" y1="371.476" x2="426.52" y2="371.476" stroke="#1a1a1a" stroke-width="0.9"/>
<text transform="translate(426.52,380.0) rotate(-45) scale(1.07,1)" text-anchor="end" font-size="6.30" fill="#231f20">L309L310del</text>
<line x1="433.86" y1="372.5" x2="433.86" y2="375.5" stroke="#111" stroke-width="0.9"/>
<rect x="430.66" y="371.86" width="6.4" height="0.64" fill="#a4062b"/>
<line x1="433.86" y1="371.86" x2="433.86" y2="370.708" stroke="#1a1a1a" stroke-width="0.9"/>
<line x1="432.46000000000004" y1="370.708" x2="435.26" y2="370.708" stroke="#1a1a1a" stroke-width="0.9"/>
<text transform="translate(435.26,380.0) rotate(-45) scale(1.07,1)" text-anchor="end" font-size="6.30" fill="#231f20">L309H</text>
<line x1="442.6" y1="372.5" x2="442.6" y2="375.5" stroke="#111" stroke-width="0.9"/>
<rect x="439.40000000000003" y="372.244" width="6.4" height="0.256" fill="#a4062b"/>
<line x1="442.6" y1="372.244" x2="442.6" y2="371.476" stroke="#1a1a1a" stroke-width="0.9"/>
<line x1="441.20000000000005" y1="371.476" x2="444.0" y2="371.476" stroke="#1a1a1a" stroke-width="0.9"/>
<text transform="translate(444.0,380.0) rotate(-45) scale(1.07,1)" text-anchor="end" font-size="6.30" fill="#231f20">R320k</text>
<line x1="451.34" y1="372.5" x2="451.34" y2="375.5" stroke="#111" stroke-width="0.9"/>
<rect x="448.14" y="371.732" width="6.4" height="0.768" fill="#a4062b"/>
<line x1="451.34" y1="371.732" x2="451.34" y2="370.452" stroke="#1a1a1a" stroke-width="0.9"/>
<line x1="449.94" y1="370.452" x2="452.73999999999995" y2="370.452" stroke="#1a1a1a" stroke-width="0.9"/>
<text transform="translate(452.73999999999995,380.0) rotate(-45) scale(1.07,1)" text-anchor="end" font-size="6.30" fill="#231f20">D323V</text>
<line x1="460.08" y1="372.5" x2="460.08" y2="375.5" stroke="#111" stroke-width="0.9"/>
<rect x="456.88" y="372.244" width="6.4" height="0.256" fill="#a4062b"/>
<line x1="460.08" y1="372.244" x2="460.08" y2="371.476" stroke="#1a1a1a" stroke-width="0.9"/>
<line x1="458.68" y1="371.476" x2="461.47999999999996" y2="371.476" stroke="#1a1a1a" stroke-width="0.9"/>
<text transform="translate(461.47999999999996,380.0) rotate(-45) scale(1.07,1)" text-anchor="end" font-size="6.30" fill="#231f20">V377*</text>
<line x1="468.82" y1="372.5" x2="468.82" y2="375.5" stroke="#111" stroke-width="0.9"/>
<rect x="465.62" y="372.244" width="6.4" height="0.256" fill="#a4062b"/>
<line x1="468.82" y1="372.244" x2="468.82" y2="371.476" stroke="#1a1a1a" stroke-width="0.9"/>
<line x1="467.42" y1="371.476" x2="470.21999999999997" y2="371.476" stroke="#1a1a1a" stroke-width="0.9"/>
<text transform="translate(470.21999999999997,380.0) rotate(-45) scale(1.07,1)" text-anchor="end" font-size="6.30" fill="#231f20">P464S</text>
<line x1="477.56" y1="372.5" x2="477.56" y2="375.5" stroke="#111" stroke-width="0.9"/>
<rect x="474.36" y="371.988" width="6.4" height="0.512" fill="#a4062b"/>
<line x1="477.56" y1="371.988" x2="477.56" y2="371.22" stroke="#1a1a1a" stroke-width="0.9"/>
<line x1="476.16" y1="371.22" x2="478.96" y2="371.22" stroke="#1a1a1a" stroke-width="0.9"/>
<text transform="translate(478.96,380.0) rotate(-45) scale(1.07,1)" text-anchor="end" font-size="6.30" fill="#231f20">P777L</text>
<line x1="486.29999999999995" y1="372.5" x2="486.29999999999995" y2="375.5" stroke="#111" stroke-width="0.9"/>
<rect x="483.09999999999997" y="371.604" width="6.4" height="0.8959999999999999" fill="#a4062b"/>
<line x1="486.29999999999995" y1="371.604" x2="486.29999999999995" y2="370.58" stroke="#1a1a1a" stroke-width="0.9"/>
<line x1="484.9" y1="370.58" x2="487.69999999999993" y2="370.58" stroke="#1a1a1a" stroke-width="0.9"/>
<text transform="translate(487.69999999999993,380.0) rotate(-45) scale(1.07,1)" text-anchor="end" font-size="6.30" fill="#231f20">G401D</text>
<line x1="495.03999999999996" y1="372.5" x2="495.03999999999996" y2="375.5" stroke="#111" stroke-width="0.9"/>
<rect x="491.84" y="372.244" width="6.4" height="0.256" fill="#a4062b"/>
<line x1="495.03999999999996" y1="372.244" x2="495.03999999999996" y2="371.476" stroke="#1a1a1a" stroke-width="0.9"/>
<line x1="493.64" y1="371.476" x2="496.43999999999994" y2="371.476" stroke="#1a1a1a" stroke-width="0.9"/>
<text transform="translate(496.43999999999994,380.0) rotate(-45) scale(1.07,1)" text-anchor="end" font-size="6.30" fill="#231f20">L670I</text>
<line x1="349.3" y1="293.3" x2="349.3" y2="373.1" stroke="#111" stroke-width="1.1"/>
<line x1="348.75" y1="372.5" x2="501" y2="372.5" stroke="#111" stroke-width="1.1"/>
<text x="373.1" y="308.4" text-anchor="middle" font-size="6.3" fill="#231f20" letter-spacing="0.75">****</text>
<text x="408.5" y="339.2" text-anchor="middle" font-size="6.3" fill="#231f20" letter-spacing="0.75">**</text>
<text x="399.4" y="366.6" text-anchor="middle" font-size="6.3" fill="#231f20" letter-spacing="0.75">*</text>
<text transform="translate(330.6,354.4) rotate(-90) scale(0.74,1)" font-size="8.4" font-style="italic" fill="#231f20">CD23</text>
<text transform="translate(327.7,328.5) rotate(-90) scale(0.92,1)" font-size="6" fill="#3a3a3a">ΔΔ</text>
<line x1="346.3" y1="514.1" x2="349.3" y2="514.1" stroke="#111" stroke-width="0.9"/>
<text x="344.2" y="516.3000000000001" text-anchor="end" font-size="6.5" fill="#231f20">0</text>
<line x1="346.3" y1="493.3" x2="349.3" y2="493.3" stroke="#111" stroke-width="0.9"/>
<text x="344.2" y="495.5" text-anchor="end" font-size="6.5" fill="#231f20">1</text>
<line x1="346.3" y1="472.5" x2="349.3" y2="472.5" stroke="#111" stroke-width="0.9"/>
<text x="344.2" y="474.7" text-anchor="end" font-size="6.5" fill="#231f20">2</text>
<line x1="346.3" y1="451.70000000000005" x2="349.3" y2="451.70000000000005" stroke="#111" stroke-width="0.9"/>
<text x="344.2" y="453.90000000000003" text-anchor="end" font-size="6.5" fill="#231f20">3</text>
<line x1="346.3" y1="430.90000000000003" x2="349.3" y2="430.90000000000003" stroke="#111" stroke-width="0.9"/>
<text x="344.2" y="433.1" text-anchor="end" font-size="6.5" fill="#231f20">4</text>
<line x1="356.0" y1="514.1" x2="356.0" y2="517.1" stroke="#111" stroke-width="0.9"/>
<rect x="352.7" y="493.3" width="6.6" height="20.8" fill="#a4062b"/>
<text transform="translate(357.5,522.0) rotate(-45) scale(1.07,1)" text-anchor="end" font-size="6.20" fill="#231f20">WT</text>
<line x1="366.0" y1="514.1" x2="366.0" y2="517.1" stroke="#111" stroke-width="0.9"/>
<rect x="362.7" y="510.77200000000005" width="6.6" height="3.3280000000000003" fill="#a4062b"/>
<line x1="366.0" y1="510.77200000000005" x2="366.0" y2="507.65200000000004" stroke="#1a1a1a" stroke-width="0.9"/>
<line x1="364.6" y1="507.65200000000004" x2="367.4" y2="507.65200000000004" stroke="#1a1a1a" stroke-width="0.9"/>
<text transform="translate(367.5,522.0) rotate(-45) scale(1.07,1)" text-anchor="end" font-size="6.20" fill="#231f20">I242N</text>
<line x1="376.0" y1="514.1" x2="376.0" y2="517.1" stroke="#111" stroke-width="0.9"/>
<rect x="372.7" y="502.244" width="6.6" height="11.856" fill="#a4062b"/>
<line x1="376.0" y1="502.244" x2="376.0" y2="497.87600000000003" stroke="#1a1a1a" stroke-width="0.9"/>
<line x1="374.6" y1="497.87600000000003" x2="377.4" y2="497.87600000000003" stroke="#1a1a1a" stroke-width="0.9"/>
<text transform="translate(377.5,522.0) rotate(-45) scale(1.07,1)" text-anchor="end" font-size="6.20" fill="#231f20">C74S</text>
<line x1="386.0" y1="514.1" x2="386.0" y2="517.1" stroke="#111" stroke-width="0.9"/>
<rect x="382.7" y="496.21200000000005" width="6.6" height="17.888" fill="#a4062b"/>
<line x1="386.0" y1="496.21200000000005" x2="386.0" y2="493.50800000000004" stroke="#1a1a1a" stroke-width="0.9"/>
<line x1="384.6" y1="493.50800000000004" x2="387.4" y2="493.50800000000004" stroke="#1a1a1a" stroke-width="0.9"/>
<text transform="translate(387.5,522.0) rotate(-45) scale(1.07,1)" text-anchor="end" font-size="6.20" fill="#231f20">N151I</text>
<line x1="396.0" y1="514.1" x2="396.0" y2="517.1" stroke="#111" stroke-width="0.9"/>
<rect x="392.7" y="504.324" width="6.6" height="9.776" fill="#a4062b"/>
<line x1="396.0" y1="504.324" x2="396.0" y2="499.124" stroke="#1a1a1a" stroke-width="0.9"/>
<line x1="394.6" y1="499.124" x2="397.4" y2="499.124" stroke="#1a1a1a" stroke-width="0.9"/>
<text transform="translate(397.5,522.0) rotate(-45) scale(1.07,1)" text-anchor="end" font-size="6.20" fill="#231f20">Y225C</text>
<line x1="406.0" y1="514.1" x2="406.0" y2="517.1" stroke="#111" stroke-width="0.9"/>
<rect x="402.7" y="509.108" width="6.6" height="4.992" fill="#a4062b"/>
<line x1="406.0" y1="509.108" x2="406.0" y2="506.82000000000005" stroke="#1a1a1a" stroke-width="0.9"/>
<line x1="404.6" y1="506.82000000000005" x2="407.4" y2="506.82000000000005" stroke="#1a1a1a" stroke-width="0.9"/>
<text transform="translate(407.5,522.0) rotate(-45) scale(1.07,1)" text-anchor="end" font-size="6.20" fill="#231f20">F229C</text>
<line x1="416.0" y1="514.1" x2="416.0" y2="517.1" stroke="#111" stroke-width="0.9"/>
<rect x="412.7" y="489.97200000000004" width="6.6" height="24.128" fill="#a4062b"/>
<line x1="416.0" y1="489.97200000000004" x2="416.0" y2="486.02000000000004" stroke="#1a1a1a" stroke-width="0.9"/>
<line x1="414.6" y1="486.02000000000004" x2="417.4" y2="486.02000000000004" stroke="#1a1a1a" stroke-width="0.9"/>
<text transform="translate(417.5,522.0) rotate(-45) scale(1.07,1)" text-anchor="end" font-size="6.20" fill="#231f20">W287L</text>
<line x1="426.0" y1="514.1" x2="426.0" y2="517.1" stroke="#111" stroke-width="0.9"/>
<rect x="422.7" y="460.02000000000004" width="6.6" height="54.080000000000005" fill="#a4062b"/>
<line x1="426.0" y1="460.02000000000004" x2="426.0" y2="443.588" stroke="#1a1a1a" stroke-width="0.9"/>
<line x1="424.6" y1="443.588" x2="427.4" y2="443.588" stroke="#1a1a1a" stroke-width="0.9"/>
<text transform="translate(427.5,522.0) rotate(-45) scale(1.07,1)" text-anchor="end" font-size="6.20" fill="#231f20">L309L310del</text>
<line x1="436.0" y1="514.1" x2="436.0" y2="517.1" stroke="#111" stroke-width="0.9"/>
<rect x="432.7" y="476.036" width="6.6" height="38.064" fill="#a4062b"/>
<line x1="436.0" y1="476.036" x2="436.0" y2="466.67600000000004" stroke="#1a1a1a" stroke-width="0.9"/>
<line x1="434.6" y1="466.67600000000004" x2="437.4" y2="466.67600000000004" stroke="#1a1a1a" stroke-width="0.9"/>
<text transform="translate(437.5,522.0) rotate(-45) scale(1.07,1)" text-anchor="end" font-size="6.20" fill="#231f20">L309H</text>
<line x1="446.0" y1="514.1" x2="446.0" y2="517.1" stroke="#111" stroke-width="0.9"/>
<rect x="442.7" y="496.004" width="6.6" height="18.096" fill="#a4062b"/>
<line x1="446.0" y1="496.004" x2="446.0" y2="489.14000000000004" stroke="#1a1a1a" stroke-width="0.9"/>
<line x1="444.6" y1="489.14000000000004" x2="447.4" y2="489.14000000000004" stroke="#1a1a1a" stroke-width="0.9"/>
<text transform="translate(447.5,522.0) rotate(-45) scale(1.07,1)" text-anchor="end" font-size="6.20" fill="#231f20">R320k</text>
<line x1="456.0" y1="514.1" x2="456.0" y2="517.1" stroke="#111" stroke-width="0.9"/>
<rect x="452.7" y="499.124" width="6.6" height="14.975999999999999" fill="#a4062b"/>
<line x1="456.0" y1="499.124" x2="456.0" y2="496.62800000000004" stroke="#1a1a1a" stroke-width="0.9"/>
<line x1="454.6" y1="496.62800000000004" x2="457.4" y2="496.62800000000004" stroke="#1a1a1a" stroke-width="0.9"/>
<text transform="translate(457.5,522.0) rotate(-45) scale(1.07,1)" text-anchor="end" font-size="6.20" fill="#231f20">D323V</text>
<line x1="466.0" y1="514.1" x2="466.0" y2="517.1" stroke="#111" stroke-width="0.9"/>
<rect x="462.7" y="492.884" width="6.6" height="21.216" fill="#a4062b"/>
<line x1="466.0" y1="492.884" x2="466.0" y2="489.14000000000004" stroke="#1a1a1a" stroke-width="0.9"/>
<line x1="464.6" y1="489.14000000000004" x2="467.4" y2="489.14000000000004" stroke="#1a1a1a" stroke-width="0.9"/>
<text transform="translate(467.5,522.0) rotate(-45) scale(1.07,1)" text-anchor="end" font-size="6.20" fill="#231f20">V377*</text>
<line x1="476.0" y1="514.1" x2="476.0" y2="517.1" stroke="#111" stroke-width="0.9"/>
<rect x="472.7" y="493.50800000000004" width="6.6" height="20.592" fill="#a4062b"/>
<line x1="476.0" y1="493.50800000000004" x2="476.0" y2="489.348" stroke="#1a1a1a" stroke-width="0.9"/>
<line x1="474.6" y1="489.348" x2="477.4" y2="489.348" stroke="#1a1a1a" stroke-width="0.9"/>
<text transform="translate(477.5,522.0) rotate(-45) scale(1.07,1)" text-anchor="end" font-size="6.20" fill="#231f20">P464S</text>
<line x1="486.0" y1="514.1" x2="486.0" y2="517.1" stroke="#111" stroke-width="0.9"/>
<rect x="482.7" y="494.548" width="6.6" height="19.552" fill="#a4062b"/>
<line x1="486.0" y1="494.548" x2="486.0" y2="490.80400000000003" stroke="#1a1a1a" stroke-width="0.9"/>
<line x1="484.6" y1="490.80400000000003" x2="487.4" y2="490.80400000000003" stroke="#1a1a1a" stroke-width="0.9"/>
<text transform="translate(487.5,522.0) rotate(-45) scale(1.07,1)" text-anchor="end" font-size="6.20" fill="#231f20">P777L</text>
<line x1="496.0" y1="514.1" x2="496.0" y2="517.1" stroke="#111" stroke-width="0.9"/>
<rect x="492.7" y="491.844" width="6.6" height="22.256000000000004" fill="#a4062b"/>
<line x1="496.0" y1="491.844" x2="496.0" y2="487.684" stroke="#1a1a1a" stroke-width="0.9"/>
<line x1="494.6" y1="487.684" x2="497.4" y2="487.684" stroke="#1a1a1a" stroke-width="0.9"/>
<text transform="translate(497.5,522.0) rotate(-45) scale(1.07,1)" text-anchor="end" font-size="6.20" fill="#231f20">G401D</text>
<line x1="506.0" y1="514.1" x2="506.0" y2="517.1" stroke="#111" stroke-width="0.9"/>
<rect x="502.7" y="494.132" width="6.6" height="19.968" fill="#a4062b"/>
<line x1="506.0" y1="494.132" x2="506.0" y2="490.38800000000003" stroke="#1a1a1a" stroke-width="0.9"/>
<line x1="504.6" y1="490.38800000000003" x2="507.4" y2="490.38800000000003" stroke="#1a1a1a" stroke-width="0.9"/>
<text transform="translate(507.5,522.0) rotate(-45) scale(1.07,1)" text-anchor="end" font-size="6.20" fill="#231f20">L670I</text>
<line x1="349.3" y1="428.3" x2="349.3" y2="514.7" stroke="#111" stroke-width="1.1"/>
<line x1="348.75" y1="514.1" x2="513.3" y2="514.1" stroke="#111" stroke-width="1.1"/>
<text x="367.2" y="504.8" text-anchor="middle" font-size="6.3" fill="#231f20" letter-spacing="0.75">****</text>
<text x="376.3" y="498.4" text-anchor="middle" font-size="6.3" fill="#231f20" letter-spacing="0.75">*</text>
<text x="396.1" y="499.8" text-anchor="middle" font-size="6.3" fill="#231f20" letter-spacing="0.75">**</text>
<text x="405.7" y="507.5" text-anchor="middle" font-size="6.3" fill="#231f20" letter-spacing="0.75">****</text>
<text x="426.4" y="444.1" text-anchor="middle" font-size="6.3" fill="#231f20" letter-spacing="0.75">****</text>
<text x="437.4" y="466.7" text-anchor="middle" font-size="6.3" fill="#231f20" letter-spacing="0.75">****</text>
<defs>
<filter id="nz" x="0" y="0" width="100%" height="100%"><feTurbulence type="fractalNoise" baseFrequency="0.45" numOctaves="2" seed="7" result="t"/><feColorMatrix type="matrix" values="0 0 0 0 0  0 0 0 0 0  0 0 0 0 0  0.9 0.9 0.9 0 -0.95"/></filter>
<filter id="nz2" x="0" y="0" width="100%" height="100%"><feTurbulence type="fractalNoise" baseFrequency="0.12 0.08" numOctaves="2" seed="11" result="t"/><feColorMatrix type="matrix" values="0 0 0 0 0  0 0 0 0 0  0 0 0 0 0  1.2 1.2 0 0 -0.75"/></filter>
</defs>
<text transform="translate(41.25,224.4) rotate(-90) scale(1.11,1)" font-size="6.01" fill="#231f20" style="stroke-width:0.12px">empty</text>
<text transform="translate(51.849999999999994,224.4) rotate(-90) scale(1.11,1)" font-size="6.01" fill="#231f20" style="stroke-width:0.12px">WT</text>
<text transform="translate(61.65,224.4) rotate(-90) scale(1.11,1)" font-size="6.01" fill="#231f20" style="stroke-width:0.12px">I242N</text>
<text transform="translate(72.35,224.4) rotate(-90) scale(1.11,1)" font-size="6.01" fill="#231f20" style="stroke-width:0.12px">C74S</text>
<text transform="translate(82.45,224.4) rotate(-90) scale(1.11,1)" font-size="6.01" fill="#231f20" style="stroke-width:0.12px">N151I</text>
<text transform="translate(93.85,224.4) rotate(-90) scale(1.11,1)" font-size="6.01" fill="#231f20" style="stroke-width:0.12px">Y225C</text>
<text transform="translate(103.95,224.4) rotate(-90) scale(1.11,1)" font-size="6.01" fill="#231f20" style="stroke-width:0.12px">F229C</text>
<text transform="translate(125.05,224.4) rotate(-90) scale(1.11,1)" font-size="6.01" fill="#231f20" style="stroke-width:0.12px">empty</text>
<text transform="translate(135.75,224.4) rotate(-90) scale(1.11,1)" font-size="6.01" fill="#231f20" style="stroke-width:0.12px">WT</text>
<text transform="translate(146.75,224.4) rotate(-90) scale(1.11,1)" font-size="6.01" fill="#231f20" style="stroke-width:0.12px">I242N</text>
<text transform="translate(157.95,224.4) rotate(-90) scale(1.11,1)" font-size="6.01" fill="#231f20" style="stroke-width:0.12px">W287L</text>
<text transform="translate(168.75,224.4) rotate(-90) scale(1.11,1)" font-size="6.01" fill="#231f20" style="stroke-width:0.12px">L309-L30del</text>
<text transform="translate(179.55,224.4) rotate(-90) scale(1.11,1)" font-size="6.01" fill="#231f20" style="stroke-width:0.12px">L309H</text>
<text transform="translate(190.55,224.4) rotate(-90) scale(1.11,1)" font-size="6.01" fill="#231f20" style="stroke-width:0.12px">R320K</text>
<text transform="translate(201.35,224.4) rotate(-90) scale(1.11,1)" font-size="6.01" fill="#231f20" style="stroke-width:0.12px">D323V</text>
<text transform="translate(211.85,224.4) rotate(-90) scale(1.11,1)" font-size="6.01" fill="#231f20" style="stroke-width:0.12px">V377*</text>
<text transform="translate(222.65,224.4) rotate(-90) scale(1.11,1)" font-size="6.01" fill="#231f20" style="stroke-width:0.12px">G401D</text>
<text transform="translate(234.15,224.4) rotate(-90) scale(1.11,1)" font-size="6.01" fill="#231f20" style="stroke-width:0.12px">P464S</text>
<text transform="translate(244.15,224.4) rotate(-90) scale(1.11,1)" font-size="6.01" fill="#231f20" style="stroke-width:0.12px">L670I</text>
<text transform="translate(254.95,224.4) rotate(-90) scale(1.11,1)" font-size="6.01" fill="#231f20" style="stroke-width:0.12px">P777L</text>
<rect x="28.3" y="227.0" width="80.60000000000001" height="24.30000000000001" fill="#e8e8e8"/>
<rect x="28.3" y="227.0" width="80.60000000000001" height="24.30000000000001" filter="url(#nz)" opacity="0.06"/>
<rect x="111.3" y="227.0" width="147.0" height="24.30000000000001" fill="#e8e8e8"/>
<rect x="111.3" y="227.0" width="147.0" height="24.30000000000001" filter="url(#nz)" opacity="0.06"/>
<rect x="111.3" y="227.0" width="2.2" height="24.30000000000001" fill="#000" opacity="0.5" filter="url(#b1)"/>
<rect x="28.3" y="253.8" width="80.60000000000001" height="17.399999999999977" fill="#ebebeb"/>
<rect x="28.3" y="253.8" width="80.60000000000001" height="17.399999999999977" filter="url(#nz)" opacity="0.12"/>
<rect x="111.3" y="253.8" width="147.0" height="17.399999999999977" fill="#ebebeb"/>
<rect x="111.3" y="253.8" width="147.0" height="17.399999999999977" filter="url(#nz)" opacity="0.12"/>
<rect x="111.3" y="253.8" width="2.2" height="17.399999999999977" fill="#000" opacity="0.5" filter="url(#b1)"/>
<rect x="28.3" y="273.5" width="80.60000000000001" height="18.5" fill="#e6e6e6"/>
<rect x="28.3" y="273.5" width="80.60000000000001" height="18.5" filter="url(#nz)" opacity="0.06"/>
<rect x="111.3" y="273.5" width="147.0" height="18.5" fill="#e6e6e6"/>
<rect x="111.3" y="273.5" width="147.0" height="18.5" filter="url(#nz)" opacity="0.06"/>
<rect x="111.3" y="273.5" width="2.2" height="18.5" fill="#000" opacity="0.5" filter="url(#b1)"/>
<rect x="28.3" y="294.2" width="80.60000000000001" height="21.400000000000034" fill="#e8e8e8"/>
<rect x="28.3" y="294.2" width="80.60000000000001" height="21.400000000000034" filter="url(#nz)" opacity="0.06"/>
<rect x="111.3" y="294.2" width="147.0" height="21.400000000000034" fill="#e8e8e8"/>
<rect x="111.3" y="294.2" width="147.0" height="21.400000000000034" filter="url(#nz)" opacity="0.06"/>
<rect x="111.3" y="294.2" width="2.2" height="21.400000000000034" fill="#000" opacity="0.5" filter="url(#b1)"/>
<clipPath id="cp1"><rect x="28.3" y="227.0" width="80.60000000000001" height="24.30000000000001"/></clipPath><g clip-path="url(#cp1)">
<rect x="45.30" y="241.50" width="7.4" height="10" rx="1.00" fill="#000" opacity="0.30" filter="url(#b1)"/>
<rect x="45.50" y="228.75" width="7.0" height="3.5" rx="1.00" fill="#000" opacity="0.20" filter="url(#b1)"/>
<rect x="45.10" y="232.65" width="7.8" height="10.5" rx="1.20" fill="#000" opacity="0.62" filter="url(#b1)"/>
<rect x="45.10" y="232.55" width="7.8" height="3.3" rx="1.20" fill="#000" opacity="0.95" filter="url(#b1)"/>
<rect x="45.10" y="239.85" width="7.8" height="3.3" rx="1.20" fill="#000" opacity="0.85" filter="url(#b1)"/>
<rect x="45.60" y="233.10" width="6.8" height="2.2" rx="0.84" fill="#000" opacity="0.60" filter="url(#b0)"/>
<rect x="45.60" y="240.30" width="6.8" height="2.4" rx="0.91" fill="#000" opacity="0.70" filter="url(#b0)"/>
<rect x="45.50" y="234.00" width="7.0" height="8" rx="2.66" fill="#000" opacity="0.30" filter="url(#b0)"/>
<rect x="55.50" y="241.50" width="7.4" height="10" rx="1.00" fill="#000" opacity="0.25" filter="url(#b1)"/>
<rect x="55.70" y="228.75" width="7.0" height="3.5" rx="1.00" fill="#000" opacity="0.17" filter="url(#b1)"/>
<rect x="55.30" y="232.65" width="7.8" height="10.5" rx="1.20" fill="#000" opacity="0.52" filter="url(#b1)"/>
<rect x="55.30" y="232.55" width="7.8" height="3.3" rx="1.20" fill="#000" opacity="0.80" filter="url(#b1)"/>
<rect x="55.30" y="239.85" width="7.8" height="3.3" rx="1.20" fill="#000" opacity="0.71" filter="url(#b1)"/>
<rect x="65.80" y="241.50" width="7.4" height="10" rx="1.00" fill="#000" opacity="0.25" filter="url(#b1)"/>
<rect x="66.00" y="228.75" width="7.0" height="3.5" rx="1.00" fill="#000" opacity="0.16" filter="url(#b1)"/>
<rect x="65.60" y="232.65" width="7.8" height="10.5" rx="1.20" fill="#000" opacity="0.51" filter="url(#b1)"/>
<rect x="65.60" y="232.55" width="7.8" height="3.3" rx="1.20" fill="#000" opacity="0.78" filter="url(#b1)"/>
<rect x="65.60" y="239.85" width="7.8" height="3.3" rx="1.20" fill="#000" opacity="0.70" filter="url(#b1)"/>
<rect x="76.30" y="241.50" width="7.4" height="10" rx="1.00" fill="#000" opacity="0.25" filter="url(#b1)"/>
<rect x="76.50" y="228.75" width="7.0" height="3.5" rx="1.00" fill="#000" opacity="0.16" filter="url(#b1)"/>
<rect x="76.10" y="232.65" width="7.8" height="10.5" rx="1.20" fill="#000" opacity="0.51" filter="url(#b1)"/>
<rect x="76.10" y="232.55" width="7.8" height="3.3" rx="1.20" fill="#000" opacity="0.78" filter="url(#b1)"/>
<rect x="76.10" y="239.85" width="7.8" height="3.3" rx="1.20" fill="#000" opacity="0.70" filter="url(#b1)"/>
<rect x="86.90" y="241.50" width="7.4" height="10" rx="1.00" fill="#000" opacity="0.22" filter="url(#b1)"/>
<rect x="87.10" y="228.75" width="7.0" height="3.5" rx="1.00" fill="#000" opacity="0.14" filter="url(#b1)"/>
<rect x="86.70" y="232.65" width="7.8" height="10.5" rx="1.20" fill="#000" opacity="0.45" filter="url(#b1)"/>
<rect x="86.70" y="232.55" width="7.8" height="3.3" rx="1.20" fill="#000" opacity="0.68" filter="url(#b1)"/>
<rect x="86.70" y="239.85" width="7.8" height="3.3" rx="1.20" fill="#000" opacity="0.61" filter="url(#b1)"/>
<rect x="97.50" y="241.50" width="7.4" height="10" rx="1.00" fill="#000" opacity="0.23" filter="url(#b1)"/>
<rect x="97.70" y="228.75" width="7.0" height="3.5" rx="1.00" fill="#000" opacity="0.16" filter="url(#b1)"/>
<rect x="97.30" y="232.65" width="7.8" height="10.5" rx="1.20" fill="#000" opacity="0.48" filter="url(#b1)"/>
<rect x="97.30" y="232.55" width="7.8" height="3.3" rx="1.20" fill="#000" opacity="0.74" filter="url(#b1)"/>
<rect x="97.30" y="239.85" width="7.8" height="3.3" rx="1.20" fill="#000" opacity="0.66" filter="url(#b1)"/>
</g>
<clipPath id="cp2"><rect x="111.3" y="227.0" width="147.0" height="24.30000000000001"/></clipPath><g clip-path="url(#cp2)">
<rect x="128.25" y="233.55" width="8.7" height="11.600000000000012" rx="1.20" fill="#000" opacity="0.70" filter="url(#b1)"/>
<rect x="128.25" y="233.75" width="8.7" height="3.4" rx="1.20" fill="#000" opacity="0.95" filter="url(#b1)"/>
<rect x="128.25" y="241.45" width="8.7" height="3.6" rx="1.20" fill="#000" opacity="0.95" filter="url(#b1)"/>
<rect x="128.85" y="234.35" width="7.499999999999999" height="2.2" rx="0.84" fill="#000" opacity="0.57" filter="url(#b0)"/>
<rect x="128.85" y="242.05" width="7.499999999999999" height="2.4" rx="0.91" fill="#000" opacity="0.62" filter="url(#b0)"/>
<rect x="128.47" y="244.65" width="8.264999999999999" height="6.0" rx="2.28" fill="#000" opacity="0.28" filter="url(#b2)"/>
<rect x="128.69" y="230.65" width="7.829999999999999" height="3.2" rx="1.22" fill="#000" opacity="0.21" filter="url(#b2)"/>
<rect x="128.60" y="246.12" width="8.0" height="5" rx="1.00" fill="#000" opacity="0.24" filter="url(#b1)"/>
<rect x="139.25" y="233.80" width="8.7" height="11.600000000000012" rx="1.20" fill="#000" opacity="0.63" filter="url(#b1)"/>
<rect x="139.25" y="234.00" width="8.7" height="3.4" rx="1.20" fill="#000" opacity="0.85" filter="url(#b1)"/>
<rect x="139.25" y="241.70" width="8.7" height="3.6" rx="1.20" fill="#000" opacity="0.85" filter="url(#b1)"/>
<rect x="139.85" y="234.60" width="7.499999999999999" height="2.2" rx="0.84" fill="#000" opacity="0.51" filter="url(#b0)"/>
<rect x="139.85" y="242.30" width="7.499999999999999" height="2.4" rx="0.91" fill="#000" opacity="0.55" filter="url(#b0)"/>
<rect x="139.47" y="244.90" width="8.264999999999999" height="6.0" rx="2.28" fill="#000" opacity="0.26" filter="url(#b2)"/>
<rect x="139.69" y="230.90" width="7.829999999999999" height="3.2" rx="1.22" fill="#000" opacity="0.19" filter="url(#b2)"/>
<rect x="139.60" y="246.25" width="8.0" height="5" rx="1.00" fill="#000" opacity="0.21" filter="url(#b1)"/>
<rect x="150.25" y="234.05" width="8.7" height="11.600000000000012" rx="1.20" fill="#000" opacity="0.67" filter="url(#b1)"/>
<rect x="150.25" y="234.25" width="8.7" height="3.4" rx="1.20" fill="#000" opacity="0.90" filter="url(#b1)"/>
<rect x="150.25" y="241.95" width="8.7" height="3.6" rx="1.20" fill="#000" opacity="0.90" filter="url(#b1)"/>
<rect x="150.85" y="234.85" width="7.499999999999999" height="2.2" rx="0.84" fill="#000" opacity="0.54" filter="url(#b0)"/>
<rect x="150.85" y="242.55" width="7.499999999999999" height="2.4" rx="0.91" fill="#000" opacity="0.59" filter="url(#b0)"/>
<rect x="150.47" y="245.15" width="8.264999999999999" height="6.0" rx="2.28" fill="#000" opacity="0.27" filter="url(#b2)"/>
<rect x="150.69" y="231.15" width="7.829999999999999" height="3.2" rx="1.22" fill="#000" opacity="0.20" filter="url(#b2)"/>
<rect x="150.60" y="246.38" width="8.0" height="5" rx="1.00" fill="#000" opacity="0.23" filter="url(#b1)"/>
<rect x="161.15" y="234.30" width="8.7" height="11.600000000000012" rx="1.20" fill="#000" opacity="0.74" filter="url(#b1)"/>
<rect x="161.15" y="234.50" width="8.7" height="3.4" rx="1.20" fill="#000" opacity="1.00" filter="url(#b1)"/>
<rect x="161.15" y="242.20" width="8.7" height="3.6" rx="1.20" fill="#000" opacity="1.00" filter="url(#b1)"/>
<rect x="161.75" y="235.10" width="7.499999999999999" height="2.2" rx="0.84" fill="#000" opacity="0.60" filter="url(#b0)"/>
<rect x="161.75" y="242.80" width="7.499999999999999" height="2.4" rx="0.91" fill="#000" opacity="0.65" filter="url(#b0)"/>
<rect x="161.37" y="245.40" width="8.264999999999999" height="6.0" rx="2.28" fill="#000" opacity="0.30" filter="url(#b2)"/>
<rect x="161.59" y="231.40" width="7.829999999999999" height="3.2" rx="1.22" fill="#000" opacity="0.22" filter="url(#b2)"/>
<rect x="161.50" y="246.50" width="8.0" height="5" rx="1.00" fill="#000" opacity="0.25" filter="url(#b1)"/>
<rect x="160.70" y="233.60" width="9.6" height="14.0" rx="2.00" fill="#000" opacity="1.00" filter="url(#b1)"/>
<rect x="161.20" y="234.35" width="8.6" height="12.5" rx="2.00" fill="#000" opacity="1.00" filter="url(#b0)"/>
<rect x="172.05" y="234.55" width="8.7" height="11.600000000000012" rx="1.20" fill="#000" opacity="0.74" filter="url(#b1)"/>
<rect x="172.05" y="234.75" width="8.7" height="3.4" rx="1.20" fill="#000" opacity="1.00" filter="url(#b1)"/>
<rect x="172.05" y="242.45" width="8.7" height="3.6" rx="1.20" fill="#000" opacity="1.00" filter="url(#b1)"/>
<rect x="172.65" y="235.35" width="7.499999999999999" height="2.2" rx="0.84" fill="#000" opacity="0.60" filter="url(#b0)"/>
<rect x="172.65" y="243.05" width="7.499999999999999" height="2.4" rx="0.91" fill="#000" opacity="0.65" filter="url(#b0)"/>
<rect x="172.27" y="245.65" width="8.264999999999999" height="6.0" rx="2.28" fill="#000" opacity="0.30" filter="url(#b2)"/>
<rect x="172.49" y="231.65" width="7.829999999999999" height="3.2" rx="1.22" fill="#000" opacity="0.22" filter="url(#b2)"/>
<rect x="172.40" y="246.62" width="8.0" height="5" rx="1.00" fill="#000" opacity="0.25" filter="url(#b1)"/>
<rect x="172.50" y="235.75" width="7.8" height="9" rx="2.96" fill="#000" opacity="0.45" filter="url(#b1)"/>
<rect x="183.05" y="234.80" width="8.7" height="11.600000000000012" rx="1.20" fill="#000" opacity="0.74" filter="url(#b1)"/>
<rect x="183.05" y="235.00" width="8.7" height="3.4" rx="1.20" fill="#000" opacity="1.00" filter="url(#b1)"/>
<rect x="183.05" y="242.70" width="8.7" height="3.6" rx="1.20" fill="#000" opacity="1.00" filter="url(#b1)"/>
<rect x="183.65" y="235.60" width="7.499999999999999" height="2.2" rx="0.84" fill="#000" opacity="0.60" filter="url(#b0)"/>
<rect x="183.65" y="243.30" width="7.499999999999999" height="2.4" rx="0.91" fill="#000" opacity="0.65" filter="url(#b0)"/>
<rect x="183.27" y="245.90" width="8.264999999999999" height="6.0" rx="2.28" fill="#000" opacity="0.30" filter="url(#b2)"/>
<rect x="183.49" y="231.90" width="7.829999999999999" height="3.2" rx="1.22" fill="#000" opacity="0.22" filter="url(#b2)"/>
<rect x="183.40" y="246.75" width="8.0" height="5" rx="1.00" fill="#000" opacity="0.25" filter="url(#b1)"/>
<rect x="183.50" y="236.00" width="7.8" height="9" rx="2.96" fill="#000" opacity="0.45" filter="url(#b1)"/>
<rect x="193.95" y="235.05" width="8.7" height="11.600000000000012" rx="1.20" fill="#000" opacity="0.70" filter="url(#b1)"/>
<rect x="193.95" y="235.25" width="8.7" height="3.4" rx="1.20" fill="#000" opacity="0.95" filter="url(#b1)"/>
<rect x="193.95" y="242.95" width="8.7" height="3.6" rx="1.20" fill="#000" opacity="0.95" filter="url(#b1)"/>
<rect x="194.55" y="235.85" width="7.499999999999999" height="2.2" rx="0.84" fill="#000" opacity="0.57" filter="url(#b0)"/>
<rect x="194.55" y="243.55" width="7.499999999999999" height="2.4" rx="0.91" fill="#000" opacity="0.62" filter="url(#b0)"/>
<rect x="194.17" y="246.15" width="8.264999999999999" height="6.0" rx="2.28" fill="#000" opacity="0.28" filter="url(#b2)"/>
<rect x="194.39" y="232.15" width="7.829999999999999" height="3.2" rx="1.22" fill="#000" opacity="0.21" filter="url(#b2)"/>
<rect x="194.30" y="246.88" width="8.0" height="5" rx="1.00" fill="#000" opacity="0.24" filter="url(#b1)"/>
<rect x="215.45" y="235.55" width="8.7" height="11.600000000000012" rx="1.20" fill="#000" opacity="0.55" filter="url(#b1)"/>
<rect x="215.45" y="235.75" width="8.7" height="3.4" rx="1.20" fill="#000" opacity="0.74" filter="url(#b1)"/>
<rect x="215.45" y="243.45" width="8.7" height="3.6" rx="1.20" fill="#000" opacity="0.74" filter="url(#b1)"/>
<rect x="216.05" y="236.35" width="7.499999999999999" height="2.2" rx="0.84" fill="#000" opacity="0.44" filter="url(#b0)"/>
<rect x="216.05" y="244.05" width="7.499999999999999" height="2.4" rx="0.91" fill="#000" opacity="0.48" filter="url(#b0)"/>
<rect x="215.67" y="246.65" width="8.264999999999999" height="6.0" rx="2.28" fill="#000" opacity="0.22" filter="url(#b2)"/>
<rect x="215.89" y="232.65" width="7.829999999999999" height="3.2" rx="1.22" fill="#000" opacity="0.16" filter="url(#b2)"/>
<rect x="215.80" y="247.12" width="8.0" height="5" rx="1.00" fill="#000" opacity="0.18" filter="url(#b1)"/>
<rect x="226.25" y="235.80" width="8.7" height="11.600000000000012" rx="1.20" fill="#000" opacity="0.55" filter="url(#b1)"/>
<rect x="226.25" y="236.00" width="8.7" height="3.4" rx="1.20" fill="#000" opacity="0.74" filter="url(#b1)"/>
<rect x="226.25" y="243.70" width="8.7" height="3.6" rx="1.20" fill="#000" opacity="0.74" filter="url(#b1)"/>
<rect x="226.85" y="236.60" width="7.499999999999999" height="2.2" rx="0.84" fill="#000" opacity="0.44" filter="url(#b0)"/>
<rect x="226.85" y="244.30" width="7.499999999999999" height="2.4" rx="0.91" fill="#000" opacity="0.48" filter="url(#b0)"/>
<rect x="226.47" y="246.90" width="8.264999999999999" height="6.0" rx="2.28" fill="#000" opacity="0.22" filter="url(#b2)"/>
<rect x="226.69" y="232.90" width="7.829999999999999" height="3.2" rx="1.22" fill="#000" opacity="0.16" filter="url(#b2)"/>
<rect x="226.60" y="247.25" width="8.0" height="5" rx="1.00" fill="#000" opacity="0.18" filter="url(#b1)"/>
<rect x="237.05" y="236.05" width="8.7" height="11.600000000000012" rx="1.20" fill="#000" opacity="0.55" filter="url(#b1)"/>
<rect x="237.05" y="236.25" width="8.7" height="3.4" rx="1.20" fill="#000" opacity="0.74" filter="url(#b1)"/>
<rect x="237.05" y="243.95" width="8.7" height="3.6" rx="1.20" fill="#000" opacity="0.74" filter="url(#b1)"/>
<rect x="237.65" y="236.85" width="7.499999999999999" height="2.2" rx="0.84" fill="#000" opacity="0.44" filter="url(#b0)"/>
<rect x="237.65" y="244.55" width="7.499999999999999" height="2.4" rx="0.91" fill="#000" opacity="0.48" filter="url(#b0)"/>
<rect x="237.27" y="247.15" width="8.264999999999999" height="6.0" rx="2.28" fill="#000" opacity="0.22" filter="url(#b2)"/>
<rect x="237.49" y="233.15" width="7.829999999999999" height="3.2" rx="1.22" fill="#000" opacity="0.16" filter="url(#b2)"/>
<rect x="237.40" y="247.38" width="8.0" height="5" rx="1.00" fill="#000" opacity="0.18" filter="url(#b1)"/>
<rect x="247.65" y="238.10" width="8.7" height="11.600000000000012" rx="1.20" fill="#000" opacity="0.74" filter="url(#b1)"/>
<rect x="247.65" y="238.30" width="8.7" height="3.4" rx="1.20" fill="#000" opacity="1.00" filter="url(#b1)"/>
<rect x="247.65" y="246.00" width="8.7" height="3.6" rx="1.20" fill="#000" opacity="1.00" filter="url(#b1)"/>
<rect x="248.25" y="238.90" width="7.499999999999999" height="2.2" rx="0.84" fill="#000" opacity="0.60" filter="url(#b0)"/>
<rect x="248.25" y="246.60" width="7.499999999999999" height="2.4" rx="0.91" fill="#000" opacity="0.65" filter="url(#b0)"/>
<rect x="247.87" y="249.20" width="8.264999999999999" height="6.0" rx="2.28" fill="#000" opacity="0.30" filter="url(#b2)"/>
<rect x="248.09" y="235.20" width="7.829999999999999" height="3.2" rx="1.22" fill="#000" opacity="0.22" filter="url(#b2)"/>
<rect x="248.00" y="248.40" width="8.0" height="5" rx="1.00" fill="#000" opacity="0.25" filter="url(#b1)"/>
<rect x="248.10" y="239.30" width="7.8" height="9" rx="2.96" fill="#000" opacity="0.45" filter="url(#b1)"/>
<rect x="112.10" y="235.00" width="2.2" height="3" rx="0.84" fill="#000" opacity="0.40" filter="url(#b0)"/>
</g>
<clipPath id="cp3"><rect x="28.3" y="253.8" width="80.60000000000001" height="17.399999999999977"/></clipPath><g clip-path="url(#cp3)">
<rect x="54.90" y="260.10" width="9.2" height="5.4" rx="2.05" fill="#000" opacity="1.00" filter="url(#b1)"/>
<rect x="55.30" y="260.60" width="8.4" height="4.4" rx="1.67" fill="#000" opacity="1.00" filter="url(#b0)"/>
<rect x="55.70" y="265.90" width="7.0" height="2.2" rx="0.84" fill="#000" opacity="0.70" filter="url(#b1)"/>
<rect x="65.20" y="260.70" width="8.6" height="3.6" rx="1.37" fill="#000" opacity="1.00" filter="url(#b1)"/>
<rect x="65.90" y="261.35" width="7.2" height="2.3" rx="0.87" fill="#000" opacity="0.85" filter="url(#b0)"/>
<rect x="66.50" y="265.80" width="6.0" height="1.6" rx="0.61" fill="#000" opacity="0.20" filter="url(#b1)"/>
<rect x="76.50" y="262.00" width="7.0" height="2.4" rx="0.91" fill="#000" opacity="1.00" filter="url(#b1)"/>
<rect x="77.30" y="262.55" width="5.4" height="1.3" rx="0.49" fill="#000" opacity="0.60" filter="url(#b0)"/>
<rect x="86.10" y="261.60" width="9.0" height="3.8" rx="1.44" fill="#000" opacity="1.00" filter="url(#b1)"/>
<rect x="86.70" y="262.25" width="7.8" height="2.5" rx="0.95" fill="#000" opacity="0.90" filter="url(#b0)"/>
<rect x="87.60" y="266.20" width="6.0" height="1.4" rx="0.53" fill="#000" opacity="0.18" filter="url(#b1)"/>
<rect x="96.00" y="261.50" width="9.6" height="5.0" rx="1.90" fill="#000" opacity="1.00" filter="url(#b1)"/>
<rect x="96.50" y="262.05" width="8.6" height="3.9" rx="1.48" fill="#000" opacity="1.00" filter="url(#b0)"/>
</g>
<clipPath id="cp4"><rect x="111.3" y="253.8" width="147.0" height="17.399999999999977"/></clipPath><g clip-path="url(#cp4)">
<rect x="139.30" y="259.60" width="10.8" height="6.0" rx="2.28" fill="#000" opacity="1.00" filter="url(#b1)"/>
<rect x="139.70" y="260.00" width="10.0" height="5.2" rx="1.98" fill="#000" opacity="1.00" filter="url(#b0)"/>
<rect x="140.20" y="263.80" width="9.0" height="5.0" rx="1.90" fill="#000" opacity="1.00" filter="url(#b1)"/>
<rect x="140.70" y="264.20" width="8.0" height="4.2" rx="1.60" fill="#000" opacity="1.00" filter="url(#b0)"/>
<rect x="112.00" y="258.50" width="2.4" height="4" rx="0.91" fill="#000" opacity="0.35" filter="url(#b0)"/>
<path d="M255.3,264.6 l1.4,1.9 l-1.2,0.3 z" fill="#222"/>
<rect x="173.40" y="264.30" width="6" height="2.4" rx="0.91" fill="#000" opacity="0.07" filter="url(#b1)"/>
<rect x="184.40" y="264.30" width="6" height="2.4" rx="0.91" fill="#000" opacity="0.07" filter="url(#b1)"/>
<rect x="195.30" y="264.30" width="6" height="2.4" rx="0.91" fill="#000" opacity="0.07" filter="url(#b1)"/>
<rect x="216.80" y="264.30" width="6" height="2.4" rx="0.91" fill="#000" opacity="0.07" filter="url(#b1)"/>
<rect x="227.60" y="264.30" width="6" height="2.4" rx="0.91" fill="#000" opacity="0.07" filter="url(#b1)"/>
<rect x="238.40" y="264.30" width="6" height="2.4" rx="0.91" fill="#000" opacity="0.07" filter="url(#b1)"/>
<rect x="249.00" y="264.30" width="6" height="2.4" rx="0.91" fill="#000" opacity="0.07" filter="url(#b1)"/>
</g>
<clipPath id="cp5"><rect x="28.3" y="273.5" width="80.60000000000001" height="18.5"/></clipPath><g clip-path="url(#cp5)">
<rect x="34.20" y="279.40" width="9.2" height="3.8" rx="1.44" fill="#000" opacity="0.95" filter="url(#b1)"/>
<rect x="34.80" y="280.05" width="8.0" height="2.5" rx="0.95" fill="#000" opacity="0.66" filter="url(#b0)"/>
<rect x="44.40" y="279.80" width="9.2" height="3.8" rx="1.44" fill="#000" opacity="0.90" filter="url(#b1)"/>
<rect x="45.00" y="280.45" width="8.0" height="2.5" rx="0.95" fill="#000" opacity="0.63" filter="url(#b0)"/>
<rect x="54.60" y="279.90" width="9.2" height="3.8" rx="1.44" fill="#000" opacity="0.95" filter="url(#b1)"/>
<rect x="55.20" y="280.55" width="8.0" height="2.5" rx="0.95" fill="#000" opacity="0.66" filter="url(#b0)"/>
<rect x="64.90" y="280.40" width="9.2" height="3.8" rx="1.44" fill="#000" opacity="0.90" filter="url(#b1)"/>
<rect x="65.50" y="281.05" width="8.0" height="2.5" rx="0.95" fill="#000" opacity="0.63" filter="url(#b0)"/>
<rect x="75.40" y="280.60" width="9.2" height="3.8" rx="1.44" fill="#000" opacity="0.90" filter="url(#b1)"/>
<rect x="76.00" y="281.25" width="8.0" height="2.5" rx="0.95" fill="#000" opacity="0.63" filter="url(#b0)"/>
<rect x="86.80" y="281.70" width="7.6" height="3.8" rx="1.44" fill="#000" opacity="0.75" filter="url(#b1)"/>
<rect x="87.50" y="282.35" width="6.2" height="2.5" rx="0.95" fill="#000" opacity="0.52" filter="url(#b0)"/>
<rect x="96.60" y="282.30" width="9.2" height="3.8" rx="1.44" fill="#000" opacity="1.00" filter="url(#b1)"/>
<rect x="97.20" y="282.95" width="8.0" height="2.5" rx="0.95" fill="#000" opacity="0.70" filter="url(#b0)"/>
</g>
<clipPath id="cp6"><rect x="111.3" y="273.5" width="147.0" height="18.5"/></clipPath><g clip-path="url(#cp6)">
<rect x="117.00" y="281.35" width="9.2" height="3.9" rx="1.48" fill="#000" opacity="1.00" filter="url(#b1)"/>
<rect x="117.70" y="282.10" width="7.8" height="2.4" rx="0.91" fill="#000" opacity="0.60" filter="url(#b0)"/>
<rect x="128.00" y="281.45" width="9.2" height="3.9" rx="1.48" fill="#000" opacity="1.00" filter="url(#b1)"/>
<rect x="128.70" y="282.20" width="7.8" height="2.4" rx="0.91" fill="#000" opacity="0.60" filter="url(#b0)"/>
<rect x="139.00" y="281.45" width="9.2" height="3.9" rx="1.48" fill="#000" opacity="1.00" filter="url(#b1)"/>
<rect x="139.70" y="282.20" width="7.8" height="2.4" rx="0.91" fill="#000" opacity="0.60" filter="url(#b0)"/>
<rect x="150.00" y="281.35" width="9.2" height="3.9" rx="1.48" fill="#000" opacity="1.00" filter="url(#b1)"/>
<rect x="150.70" y="282.10" width="7.8" height="2.4" rx="0.91" fill="#000" opacity="0.60" filter="url(#b0)"/>
<rect x="160.90" y="281.15" width="9.2" height="3.9" rx="1.48" fill="#000" opacity="1.00" filter="url(#b1)"/>
<rect x="161.60" y="281.90" width="7.8" height="2.4" rx="0.91" fill="#000" opacity="0.60" filter="url(#b0)"/>
<rect x="171.80" y="280.95" width="9.2" height="3.9" rx="1.48" fill="#000" opacity="1.00" filter="url(#b1)"/>
<rect x="172.50" y="281.70" width="7.8" height="2.4" rx="0.91" fill="#000" opacity="0.60" filter="url(#b0)"/>
<rect x="182.80" y="280.75" width="9.2" height="3.9" rx="1.48" fill="#000" opacity="1.00" filter="url(#b1)"/>
<rect x="183.50" y="281.50" width="7.8" height="2.4" rx="0.91" fill="#000" opacity="0.60" filter="url(#b0)"/>
<rect x="193.70" y="281.15" width="9.2" height="3.9" rx="1.48" fill="#000" opacity="1.00" filter="url(#b1)"/>
<rect x="194.40" y="281.90" width="7.8" height="2.4" rx="0.91" fill="#000" opacity="0.60" filter="url(#b0)"/>
<rect x="204.60" y="281.35" width="9.2" height="3.9" rx="1.48" fill="#000" opacity="1.00" filter="url(#b1)"/>
<rect x="205.30" y="282.10" width="7.8" height="2.4" rx="0.91" fill="#000" opacity="0.60" filter="url(#b0)"/>
<rect x="215.20" y="280.95" width="9.2" height="3.9" rx="1.48" fill="#000" opacity="1.00" filter="url(#b1)"/>
<rect x="215.90" y="281.70" width="7.8" height="2.4" rx="0.91" fill="#000" opacity="0.60" filter="url(#b0)"/>
<rect x="226.00" y="279.95" width="9.2" height="3.9" rx="1.48" fill="#000" opacity="1.00" filter="url(#b1)"/>
<rect x="226.70" y="280.70" width="7.8" height="2.4" rx="0.91" fill="#000" opacity="0.60" filter="url(#b0)"/>
<rect x="236.80" y="279.35" width="9.2" height="3.9" rx="1.48" fill="#000" opacity="1.00" filter="url(#b1)"/>
<rect x="237.50" y="280.10" width="7.8" height="2.4" rx="0.91" fill="#000" opacity="0.60" filter="url(#b0)"/>
<rect x="247.40" y="279.75" width="9.2" height="3.9" rx="1.48" fill="#000" opacity="1.00" filter="url(#b1)"/>
<rect x="248.10" y="280.50" width="7.8" height="2.4" rx="0.91" fill="#000" opacity="0.60" filter="url(#b0)"/>
<rect x="112.20" y="282.30" width="1.6" height="2.6" rx="0.61" fill="#000" opacity="0.35" filter="url(#b0)"/>
</g>
<clipPath id="cp7"><rect x="28.3" y="294.2" width="80.60000000000001" height="21.400000000000034"/></clipPath><g clip-path="url(#cp7)">
<rect x="34.00" y="304.45" width="9.6" height="3.9" rx="1.48" fill="#000" opacity="1.00" filter="url(#b1)"/>
<rect x="34.60" y="305.10" width="8.4" height="2.6" rx="0.99" fill="#000" opacity="0.75" filter="url(#b0)"/>
<rect x="44.20" y="304.45" width="9.6" height="3.9" rx="1.48" fill="#000" opacity="1.00" filter="url(#b1)"/>
<rect x="44.80" y="305.10" width="8.4" height="2.6" rx="0.99" fill="#000" opacity="0.75" filter="url(#b0)"/>
<rect x="54.40" y="304.45" width="9.6" height="3.9" rx="1.48" fill="#000" opacity="1.00" filter="url(#b1)"/>
<rect x="55.00" y="305.10" width="8.4" height="2.6" rx="0.99" fill="#000" opacity="0.75" filter="url(#b0)"/>
<rect x="64.70" y="304.45" width="9.6" height="3.9" rx="1.48" fill="#000" opacity="1.00" filter="url(#b1)"/>
<rect x="65.30" y="305.10" width="8.4" height="2.6" rx="0.99" fill="#000" opacity="0.75" filter="url(#b0)"/>
<rect x="75.20" y="304.45" width="9.6" height="3.9" rx="1.48" fill="#000" opacity="1.00" filter="url(#b1)"/>
<rect x="75.80" y="305.10" width="8.4" height="2.6" rx="0.99" fill="#000" opacity="0.75" filter="url(#b0)"/>
<rect x="85.80" y="304.45" width="9.6" height="3.9" rx="1.48" fill="#000" opacity="1.00" filter="url(#b1)"/>
<rect x="86.40" y="305.10" width="8.4" height="2.6" rx="0.99" fill="#000" opacity="0.75" filter="url(#b0)"/>
<rect x="96.40" y="303.75" width="9.6" height="3.9" rx="1.48" fill="#000" opacity="1.00" filter="url(#b1)"/>
<rect x="97.00" y="304.40" width="8.4" height="2.6" rx="0.99" fill="#000" opacity="0.75" filter="url(#b0)"/>
<rect x="29.50" y="302.50" width="1.6" height="4" rx="0.61" fill="#000" opacity="0.25" filter="url(#b0)"/>
</g>
<clipPath id="cp8"><rect x="111.3" y="294.2" width="147.0" height="21.400000000000034"/></clipPath><g clip-path="url(#cp8)">
<rect x="116.90" y="299.55" width="9.4" height="3.9" rx="1.48" fill="#000" opacity="1.00" filter="url(#b1)"/>
<rect x="117.60" y="300.30" width="8.0" height="2.4" rx="0.91" fill="#000" opacity="0.60" filter="url(#b0)"/>
<rect x="127.90" y="300.15" width="9.4" height="3.9" rx="1.48" fill="#000" opacity="1.00" filter="url(#b1)"/>
<rect x="128.60" y="300.90" width="8.0" height="2.4" rx="0.91" fill="#000" opacity="0.60" filter="url(#b0)"/>
<rect x="138.90" y="300.55" width="9.4" height="3.9" rx="1.48" fill="#000" opacity="1.00" filter="url(#b1)"/>
<rect x="139.60" y="301.30" width="8.0" height="2.4" rx="0.91" fill="#000" opacity="0.60" filter="url(#b0)"/>
<rect x="149.90" y="300.95" width="9.4" height="3.9" rx="1.48" fill="#000" opacity="1.00" filter="url(#b1)"/>
<rect x="150.60" y="301.70" width="8.0" height="2.4" rx="0.91" fill="#000" opacity="0.60" filter="url(#b0)"/>
<rect x="160.80" y="301.25" width="9.4" height="3.9" rx="1.48" fill="#000" opacity="1.00" filter="url(#b1)"/>
<rect x="161.50" y="302.00" width="8.0" height="2.4" rx="0.91" fill="#000" opacity="0.60" filter="url(#b0)"/>
<rect x="171.70" y="301.75" width="9.4" height="3.9" rx="1.48" fill="#000" opacity="1.00" filter="url(#b1)"/>
<rect x="172.40" y="302.50" width="8.0" height="2.4" rx="0.91" fill="#000" opacity="0.60" filter="url(#b0)"/>
<rect x="182.70" y="302.15" width="9.4" height="3.9" rx="1.48" fill="#000" opacity="1.00" filter="url(#b1)"/>
<rect x="183.40" y="302.90" width="8.0" height="2.4" rx="0.91" fill="#000" opacity="0.60" filter="url(#b0)"/>
<rect x="193.60" y="302.55" width="9.4" height="3.9" rx="1.48" fill="#000" opacity="1.00" filter="url(#b1)"/>
<rect x="194.30" y="303.30" width="8.0" height="2.4" rx="0.91" fill="#000" opacity="0.60" filter="url(#b0)"/>
<rect x="204.50" y="302.65" width="9.4" height="3.9" rx="1.48" fill="#000" opacity="1.00" filter="url(#b1)"/>
<rect x="205.20" y="303.40" width="8.0" height="2.4" rx="0.91" fill="#000" opacity="0.60" filter="url(#b0)"/>
<rect x="215.10" y="302.55" width="9.4" height="3.9" rx="1.48" fill="#000" opacity="1.00" filter="url(#b1)"/>
<rect x="215.80" y="303.30" width="8.0" height="2.4" rx="0.91" fill="#000" opacity="0.60" filter="url(#b0)"/>
<rect x="225.90" y="302.35" width="9.4" height="3.9" rx="1.48" fill="#000" opacity="1.00" filter="url(#b1)"/>
<rect x="226.60" y="303.10" width="8.0" height="2.4" rx="0.91" fill="#000" opacity="0.60" filter="url(#b0)"/>
<rect x="236.70" y="302.15" width="9.4" height="3.9" rx="1.48" fill="#000" opacity="1.00" filter="url(#b1)"/>
<rect x="237.40" y="302.90" width="8.0" height="2.4" rx="0.91" fill="#000" opacity="0.60" filter="url(#b0)"/>
<rect x="247.30" y="301.85" width="9.4" height="3.9" rx="1.48" fill="#000" opacity="1.00" filter="url(#b1)"/>
<rect x="248.00" y="302.60" width="8.0" height="2.4" rx="0.91" fill="#000" opacity="0.60" filter="url(#b0)"/>
</g>
<rect x="28.3" y="227.0" width="80.60000000000001" height="24.30000000000001" fill="none" stroke="#3a3a3a" stroke-width="0.95"/>
<rect x="111.3" y="227.0" width="147.0" height="24.30000000000001" fill="none" stroke="#3a3a3a" stroke-width="0.95"/>
<rect x="28.3" y="253.8" width="80.60000000000001" height="17.399999999999977" fill="none" stroke="#3a3a3a" stroke-width="0.95"/>
<rect x="111.3" y="253.8" width="147.0" height="17.399999999999977" fill="none" stroke="#3a3a3a" stroke-width="0.95"/>
<rect x="28.3" y="273.5" width="80.60000000000001" height="18.5" fill="none" stroke="#3a3a3a" stroke-width="0.95"/>
<rect x="111.3" y="273.5" width="147.0" height="18.5" fill="none" stroke="#3a3a3a" stroke-width="0.95"/>
<rect x="28.3" y="294.2" width="80.60000000000001" height="21.400000000000034" fill="none" stroke="#3a3a3a" stroke-width="0.95"/>
<rect x="111.3" y="294.2" width="147.0" height="21.400000000000034" fill="none" stroke="#3a3a3a" stroke-width="0.95"/>
<text x="261.3" y="243" font-size="6.5" fill="#231f20">IL4R</text>
<text x="261.3" y="265.3" font-size="6.5" fill="#231f20">pSTAT6</text>
<text x="261.3" y="285.6" font-size="6.5" fill="#231f20">STAT6</text>
<text x="261.3" y="306.6" font-size="6.5" fill="#231f20">GAPDH</text>
<text transform="translate(39.050000000000004,382.8) rotate(-90) scale(1.11,1)" font-size="6.01" fill="#231f20" style="stroke-width:0.2px">empty</text>
<text transform="translate(50.65,382.8) rotate(-90) scale(1.11,1)" font-size="6.01" fill="#231f20" style="stroke-width:0.2px">WT</text>
<text transform="translate(58.85,382.8) rotate(-90) scale(1.11,1)" font-size="6.01" fill="#231f20" style="stroke-width:0.2px">I242N</text>
<text transform="translate(69.75,382.8) rotate(-90) scale(1.11,1)" font-size="6.01" fill="#231f20" style="stroke-width:0.2px">C74S</text>
<text transform="translate(78.75,382.8) rotate(-90) scale(1.11,1)" font-size="6.01" fill="#231f20" style="stroke-width:0.2px">N151I</text>
<text transform="translate(86.64999999999999,382.8) rotate(-90) scale(1.11,1)" font-size="6.01" fill="#231f20" style="stroke-width:0.2px">Y225C</text>
<text transform="translate(95.75,382.8) rotate(-90) scale(1.11,1)" font-size="6.01" fill="#231f20" style="stroke-width:0.2px">F229C</text>
<text transform="translate(112.05,382.8) rotate(-90) scale(1.11,1)" font-size="6.01" fill="#231f20" style="stroke-width:0.2px">empty</text>
<text transform="translate(122.35,382.8) rotate(-90) scale(1.11,1)" font-size="6.01" fill="#231f20" style="stroke-width:0.2px">WT</text>
<text transform="translate(130.85,382.8) rotate(-90) scale(1.11,1)" font-size="6.01" fill="#231f20" style="stroke-width:0.2px">I242N</text>
<text transform="translate(140.85,382.8) rotate(-90) scale(1.11,1)" font-size="6.01" fill="#231f20" style="stroke-width:0.2px">W287L</text>
<text transform="translate(151.35,382.8) rotate(-90) scale(1.11,1)" font-size="6.01" fill="#231f20" style="stroke-width:0.2px">L309-L30del</text>
<text transform="translate(160.15,382.8) rotate(-90) scale(1.11,1)" font-size="6.01" fill="#231f20" style="stroke-width:0.2px">L309H</text>
<text transform="translate(168.25,382.8) rotate(-90) scale(1.11,1)" font-size="6.01" fill="#231f20" style="stroke-width:0.2px">R320K</text>
<text transform="translate(177.75,382.8) rotate(-90) scale(1.11,1)" font-size="6.01" fill="#231f20" style="stroke-width:0.2px">D323V</text>
<text transform="translate(188.15,382.8) rotate(-90) scale(1.11,1)" font-size="6.01" fill="#231f20" style="stroke-width:0.2px">V377*</text>
<text transform="translate(197.75,382.8) rotate(-90) scale(1.11,1)" font-size="6.01" fill="#231f20" style="stroke-width:0.2px">P464S</text>
<text transform="translate(208.65,382.8) rotate(-90) scale(1.11,1)" font-size="6.01" fill="#231f20" style="stroke-width:0.2px">P777L</text>
<text transform="translate(217.85,382.8) rotate(-90) scale(1.11,1)" font-size="6.01" fill="#231f20" style="stroke-width:0.2px">G401D</text>
<text transform="translate(227.25,382.8) rotate(-90) scale(1.11,1)" font-size="6.01" fill="#231f20" style="stroke-width:0.2px">L670I</text>
<rect x="31.4" y="385.2" width="70.1" height="25.600000000000023" fill="#dedede"/>
<rect x="31.4" y="385.2" width="70.1" height="25.600000000000023" filter="url(#nz2)" opacity="0.3"/>
<rect x="31.4" y="385.2" width="70.1" height="25.600000000000023" filter="url(#nz)" opacity="0.12"/>
<rect x="103.3" y="385.2" width="129.5" height="25.600000000000023" fill="#f3f3f3"/>
<rect x="103.3" y="385.2" width="129.5" height="25.600000000000023" filter="url(#nz)" opacity="0.04"/>
<rect x="103.3" y="385.2" width="2.6" height="25.600000000000023" fill="#000" opacity="0.22" filter="url(#b0)"/>
<rect x="31.4" y="413.8" width="70.1" height="18.399999999999977" fill="#e6e6e6"/>
<rect x="31.4" y="413.8" width="70.1" height="18.399999999999977" filter="url(#nz)" opacity="0.12"/>
<rect x="103.3" y="413.8" width="129.5" height="18.399999999999977" fill="#d9d9d9"/>
<rect x="103.3" y="413.8" width="129.5" height="18.399999999999977" filter="url(#nz)" opacity="0.1"/>
<rect x="103.3" y="413.8" width="2.6" height="18.399999999999977" fill="#000" opacity="0.22" filter="url(#b0)"/>
<rect x="31.4" y="436.9" width="70.1" height="16.900000000000034" fill="#f0f0f0"/>
<rect x="31.4" y="436.9" width="70.1" height="16.900000000000034" filter="url(#nz)" opacity="0.05"/>
<rect x="103.3" y="436.9" width="129.5" height="16.900000000000034" fill="#f0f0f0"/>
<rect x="103.3" y="436.9" width="129.5" height="16.900000000000034" filter="url(#nz)" opacity="0.05"/>
<rect x="103.3" y="436.9" width="2.6" height="16.900000000000034" fill="#000" opacity="0.22" filter="url(#b0)"/>
<rect x="31.4" y="459.2" width="70.1" height="18.100000000000023" fill="#ededed"/>
<rect x="31.4" y="459.2" width="70.1" height="18.100000000000023" filter="url(#nz)" opacity="0.05"/>
<rect x="103.3" y="459.2" width="129.5" height="18.100000000000023" fill="#ececec"/>
<rect x="103.3" y="459.2" width="129.5" height="18.100000000000023" filter="url(#nz)" opacity="0.05"/>
<rect x="103.3" y="459.2" width="2.6" height="18.100000000000023" fill="#000" opacity="0.22" filter="url(#b0)"/>
<clipPath id="cp9"><rect x="31.4" y="385.2" width="70.1" height="25.600000000000023"/></clipPath><g clip-path="url(#cp9)">
<rect x="33.50" y="387.50" width="8" height="7" rx="2.66" fill="#000" opacity="0.18" filter="url(#b2)"/>
<rect x="43.70" y="388.00" width="7.6" height="19" rx="2.89" fill="#000" opacity="0.70" filter="url(#b2)"/>
<rect x="44.20" y="393.50" width="6.6" height="10.0" rx="2.51" fill="#000" opacity="0.90" filter="url(#b1)"/>
<rect x="45.00" y="396.50" width="5.0" height="6.0" rx="1.90" fill="#000" opacity="0.60" filter="url(#b0)"/>
<rect x="44.50" y="387.00" width="6.0" height="6.0" rx="2.28" fill="#000" opacity="0.50" filter="url(#b1)"/>
<rect x="54.35" y="392.00" width="6.5" height="16" rx="2.47" fill="#000" opacity="0.20" filter="url(#b2)"/>
<rect x="63.90" y="390.00" width="6.8" height="18" rx="2.58" fill="#000" opacity="0.30" filter="url(#b2)"/>
<rect x="64.10" y="401.50" width="6.4" height="5.0" rx="1.90" fill="#000" opacity="0.40" filter="url(#b1)"/>
<rect x="73.40" y="386.00" width="7.4" height="24" rx="2.81" fill="#000" opacity="0.65" filter="url(#b2)"/>
<rect x="74.00" y="392.00" width="6.2" height="12" rx="2.36" fill="#000" opacity="0.75" filter="url(#b1)"/>
<rect x="74.80" y="394.50" width="4.6" height="6" rx="1.75" fill="#000" opacity="0.40" filter="url(#b0)"/>
<rect x="83.50" y="391.00" width="6.6" height="18" rx="2.51" fill="#000" opacity="0.40" filter="url(#b2)"/>
<rect x="84.30" y="394.50" width="5" height="7" rx="1.90" fill="#000" opacity="0.22" filter="url(#b1)"/>
<rect x="93.90" y="389.00" width="5.0" height="16" rx="1.90" fill="#000" opacity="0.18" filter="url(#b2)"/>
<circle cx="61" cy="398.3" r="0.45" fill="#111"/>
</g>
<clipPath id="cp10"><rect x="103.3" y="385.2" width="129.5" height="25.600000000000023"/></clipPath><g clip-path="url(#cp10)">
<rect x="117.30" y="386.00" width="6.6" height="21" rx="2.51" fill="#000" opacity="0.16" filter="url(#b2)"/>
<rect x="117.20" y="393.50" width="6.8" height="9.0" rx="2.58" fill="#000" opacity="0.19" filter="url(#b1)"/>
<rect x="117.10" y="393.90" width="7.0" height="2.6" rx="0.99" fill="#000" opacity="0.32" filter="url(#b1)"/>
<rect x="117.10" y="399.50" width="7.0" height="2.6" rx="0.99" fill="#000" opacity="0.25" filter="url(#b1)"/>
<rect x="135.70" y="386.00" width="6.6" height="21" rx="2.51" fill="#000" opacity="0.24" filter="url(#b2)"/>
<rect x="135.60" y="393.50" width="6.8" height="9.0" rx="2.58" fill="#000" opacity="0.28" filter="url(#b1)"/>
<rect x="135.50" y="393.90" width="7.0" height="2.6" rx="0.99" fill="#000" opacity="0.46" filter="url(#b1)"/>
<rect x="135.50" y="399.50" width="7.0" height="2.6" rx="0.99" fill="#000" opacity="0.37" filter="url(#b1)"/>
<rect x="145.20" y="386.00" width="6.6" height="21" rx="2.51" fill="#000" opacity="0.38" filter="url(#b2)"/>
<rect x="145.10" y="393.50" width="6.8" height="9.0" rx="2.58" fill="#000" opacity="0.45" filter="url(#b1)"/>
<rect x="145.00" y="393.90" width="7.0" height="2.6" rx="0.99" fill="#000" opacity="0.75" filter="url(#b1)"/>
<rect x="145.00" y="399.50" width="7.0" height="2.6" rx="0.99" fill="#000" opacity="0.60" filter="url(#b1)"/>
<rect x="154.60" y="386.00" width="6.6" height="21" rx="2.51" fill="#000" opacity="0.32" filter="url(#b2)"/>
<rect x="154.50" y="393.50" width="6.8" height="9.0" rx="2.58" fill="#000" opacity="0.38" filter="url(#b1)"/>
<rect x="154.40" y="393.90" width="7.0" height="2.6" rx="0.99" fill="#000" opacity="0.64" filter="url(#b1)"/>
<rect x="154.40" y="399.50" width="7.0" height="2.6" rx="0.99" fill="#000" opacity="0.51" filter="url(#b1)"/>
<rect x="164.00" y="386.00" width="6.6" height="21" rx="2.51" fill="#000" opacity="0.08" filter="url(#b2)"/>
<rect x="163.90" y="393.50" width="6.8" height="9.0" rx="2.58" fill="#000" opacity="0.10" filter="url(#b1)"/>
<rect x="163.80" y="393.90" width="7.0" height="2.6" rx="0.99" fill="#000" opacity="0.17" filter="url(#b1)"/>
<rect x="163.80" y="399.50" width="7.0" height="2.6" rx="0.99" fill="#000" opacity="0.13" filter="url(#b1)"/>
<rect x="173.40" y="386.00" width="6.6" height="21" rx="2.51" fill="#000" opacity="0.13" filter="url(#b2)"/>
<rect x="173.30" y="393.50" width="6.8" height="9.0" rx="2.58" fill="#000" opacity="0.15" filter="url(#b1)"/>
<rect x="173.20" y="393.90" width="7.0" height="2.6" rx="0.99" fill="#000" opacity="0.25" filter="url(#b1)"/>
<rect x="173.20" y="399.50" width="7.0" height="2.6" rx="0.99" fill="#000" opacity="0.20" filter="url(#b1)"/>
<rect x="193.10" y="386.00" width="6.6" height="21" rx="2.51" fill="#000" opacity="0.17" filter="url(#b2)"/>
<rect x="193.00" y="393.50" width="6.8" height="9.0" rx="2.58" fill="#000" opacity="0.20" filter="url(#b1)"/>
<rect x="192.90" y="393.90" width="7.0" height="2.6" rx="0.99" fill="#000" opacity="0.34" filter="url(#b1)"/>
<rect x="192.90" y="399.50" width="7.0" height="2.6" rx="0.99" fill="#000" opacity="0.27" filter="url(#b1)"/>
<rect x="203.10" y="386.00" width="6.6" height="21" rx="2.51" fill="#000" opacity="0.11" filter="url(#b2)"/>
<rect x="203.00" y="393.50" width="6.8" height="9.0" rx="2.58" fill="#000" opacity="0.14" filter="url(#b1)"/>
<rect x="202.90" y="393.90" width="7.0" height="2.6" rx="0.99" fill="#000" opacity="0.22" filter="url(#b1)"/>
<rect x="202.90" y="399.50" width="7.0" height="2.6" rx="0.99" fill="#000" opacity="0.18" filter="url(#b1)"/>
<rect x="212.50" y="386.00" width="6.6" height="21" rx="2.51" fill="#000" opacity="0.20" filter="url(#b2)"/>
<rect x="212.40" y="393.50" width="6.8" height="9.0" rx="2.58" fill="#000" opacity="0.23" filter="url(#b1)"/>
<rect x="212.30" y="393.90" width="7.0" height="2.6" rx="0.99" fill="#000" opacity="0.39" filter="url(#b1)"/>
<rect x="212.30" y="399.50" width="7.0" height="2.6" rx="0.99" fill="#000" opacity="0.31" filter="url(#b1)"/>
<rect x="221.90" y="386.00" width="6.6" height="21" rx="2.51" fill="#000" opacity="0.11" filter="url(#b2)"/>
<rect x="221.80" y="393.50" width="6.8" height="9.0" rx="2.58" fill="#000" opacity="0.14" filter="url(#b1)"/>
<rect x="221.70" y="393.90" width="7.0" height="2.6" rx="0.99" fill="#000" opacity="0.22" filter="url(#b1)"/>
<rect x="221.70" y="399.50" width="7.0" height="2.6" rx="0.99" fill="#000" opacity="0.18" filter="url(#b1)"/>
<rect x="135.75" y="387.00" width="6.5" height="7" rx="2.47" fill="#000" opacity="0.30" filter="url(#b2)"/>
<rect x="212.80" y="387.00" width="6.0" height="7" rx="2.28" fill="#000" opacity="0.20" filter="url(#b2)"/>
<rect x="144.30" y="392.05" width="8.4" height="13.5" rx="2.50" fill="#000" opacity="1.00" filter="url(#b1)"/>
<rect x="144.80" y="392.80" width="7.4" height="12.0" rx="2.50" fill="#000" opacity="1.00" filter="url(#b0)"/>
<rect x="145.25" y="405.50" width="6.5" height="4" rx="1.52" fill="#000" opacity="0.30" filter="url(#b2)"/>
<rect x="154.40" y="394.05" width="7.0" height="8.5" rx="2.66" fill="#000" opacity="0.60" filter="url(#b1)"/>
<rect x="154.40" y="394.00" width="7.0" height="3.0" rx="1.14" fill="#000" opacity="0.50" filter="url(#b1)"/>
<rect x="103.70" y="390.50" width="1.8" height="2.0" rx="0.68" fill="#000" opacity="0.50" filter="url(#b0)"/>
<rect x="103.70" y="397.00" width="1.8" height="2.0" rx="0.68" fill="#000" opacity="0.50" filter="url(#b0)"/>
<rect x="103.70" y="403.50" width="1.8" height="2.0" rx="0.68" fill="#000" opacity="0.50" filter="url(#b0)"/>
</g>
<clipPath id="cp11"><rect x="31.4" y="413.8" width="70.1" height="18.399999999999977"/></clipPath><g clip-path="url(#cp11)">
<rect x="53.40" y="422.60" width="8.4" height="3.2" rx="1.22" fill="#000" opacity="1.00" filter="url(#b1)"/>
<rect x="54.00" y="423.20" width="7.2" height="2.0" rx="0.76" fill="#000" opacity="0.90" filter="url(#b0)"/>
<rect x="63.80" y="423.35" width="7.0" height="2.3" rx="0.87" fill="#000" opacity="0.70" filter="url(#b1)"/>
<rect x="83.80" y="423.70" width="6.0" height="2.2" rx="0.84" fill="#000" opacity="0.30" filter="url(#b1)"/>
<rect x="84.80" y="419.00" width="4" height="3" rx="1.14" fill="#000" opacity="0.10" filter="url(#b2)"/>
<rect x="93.10" y="423.50" width="6.6" height="2.2" rx="0.84" fill="#000" opacity="0.50" filter="url(#b1)"/>
</g>
<clipPath id="cp12"><rect x="103.3" y="413.8" width="129.5" height="18.399999999999977"/></clipPath><g clip-path="url(#cp12)">
<rect x="125.20" y="422.50" width="8.8" height="3.4" rx="1.29" fill="#000" opacity="1.00" filter="url(#b1)"/>
<rect x="125.80" y="423.05" width="7.6" height="2.3" rx="0.87" fill="#000" opacity="0.90" filter="url(#b0)"/>
<rect x="125.80" y="426.50" width="7.6" height="2.8" rx="1.06" fill="#000" opacity="0.50" filter="url(#b1)"/>
<circle cx="208.4" cy="416.4" r="1.0" fill="#1a1a1a"/><circle cx="209.9" cy="418.6" r="0.8" fill="#2a2a2a"/><circle cx="206.3" cy="418.8" r="0.5" fill="#444"/><circle cx="210.6" cy="420.6" r="0.4" fill="#555"/>
<rect x="103.70" y="416.90" width="1.8" height="2.2" rx="0.68" fill="#000" opacity="0.45" filter="url(#b0)"/>
<rect x="103.70" y="424.90" width="1.8" height="2.2" rx="0.68" fill="#000" opacity="0.45" filter="url(#b0)"/>
<rect x="118.10" y="414.50" width="5.0" height="17" rx="1.90" fill="#000" opacity="0.07" filter="url(#b1)"/>
<rect x="127.10" y="414.50" width="5.0" height="17" rx="1.90" fill="#000" opacity="0.07" filter="url(#b1)"/>
<rect x="136.50" y="414.50" width="5.0" height="17" rx="1.90" fill="#000" opacity="0.07" filter="url(#b1)"/>
<rect x="146.00" y="414.50" width="5.0" height="17" rx="1.90" fill="#000" opacity="0.07" filter="url(#b1)"/>
<rect x="155.40" y="414.50" width="5.0" height="17" rx="1.90" fill="#000" opacity="0.07" filter="url(#b1)"/>
<rect x="164.80" y="414.50" width="5.0" height="17" rx="1.90" fill="#000" opacity="0.07" filter="url(#b1)"/>
<rect x="174.20" y="414.50" width="5.0" height="17" rx="1.90" fill="#000" opacity="0.07" filter="url(#b1)"/>
<rect x="183.50" y="414.50" width="5.0" height="17" rx="1.90" fill="#000" opacity="0.07" filter="url(#b1)"/>
<rect x="193.90" y="414.50" width="5.0" height="17" rx="1.90" fill="#000" opacity="0.07" filter="url(#b1)"/>
<rect x="203.90" y="414.50" width="5.0" height="17" rx="1.90" fill="#000" opacity="0.07" filter="url(#b1)"/>
<rect x="213.30" y="414.50" width="5.0" height="17" rx="1.90" fill="#000" opacity="0.07" filter="url(#b1)"/>
<rect x="222.70" y="414.50" width="5.0" height="17" rx="1.90" fill="#000" opacity="0.07" filter="url(#b1)"/>
</g>
<clipPath id="cp13"><rect x="31.4" y="436.9" width="70.1" height="16.900000000000034"/></clipPath><g clip-path="url(#cp13)">
<rect x="33.40" y="443.25" width="8.2" height="3.1" rx="1.18" fill="#000" opacity="1.00" filter="url(#b1)"/>
<rect x="34.10" y="443.90" width="6.799999999999999" height="1.8" rx="0.68" fill="#000" opacity="0.65" filter="url(#b0)"/>
<rect x="43.40" y="443.65" width="8.2" height="3.1" rx="1.18" fill="#000" opacity="1.00" filter="url(#b1)"/>
<rect x="44.10" y="444.30" width="6.799999999999999" height="1.8" rx="0.68" fill="#000" opacity="0.65" filter="url(#b0)"/>
<rect x="53.50" y="443.65" width="8.2" height="3.1" rx="1.18" fill="#000" opacity="1.00" filter="url(#b1)"/>
<rect x="54.20" y="444.30" width="6.799999999999999" height="1.8" rx="0.68" fill="#000" opacity="0.65" filter="url(#b0)"/>
<rect x="63.20" y="443.85" width="8.2" height="3.1" rx="1.18" fill="#000" opacity="1.00" filter="url(#b1)"/>
<rect x="63.90" y="444.50" width="6.799999999999999" height="1.8" rx="0.68" fill="#000" opacity="0.65" filter="url(#b0)"/>
<rect x="73.00" y="444.45" width="8.2" height="3.1" rx="1.18" fill="#000" opacity="1.00" filter="url(#b1)"/>
<rect x="73.70" y="445.10" width="6.799999999999999" height="1.8" rx="0.68" fill="#000" opacity="0.65" filter="url(#b0)"/>
<rect x="82.70" y="444.85" width="8.2" height="3.1" rx="1.18" fill="#000" opacity="1.00" filter="url(#b1)"/>
<rect x="83.40" y="445.50" width="6.799999999999999" height="1.8" rx="0.68" fill="#000" opacity="0.65" filter="url(#b0)"/>
<rect x="93.20" y="444.45" width="6.4" height="3.1" rx="1.18" fill="#000" opacity="1.00" filter="url(#b1)"/>
<rect x="93.90" y="445.10" width="5.0" height="1.8" rx="0.68" fill="#000" opacity="0.65" filter="url(#b0)"/>
<rect x="82.60" y="444.60" width="8.4" height="3.4" rx="1.29" fill="#000" opacity="0.90" filter="url(#b1)"/>
<rect x="83.80" y="439.30" width="6.0" height="5.0" rx="1.90" fill="#000" opacity="0.30" filter="url(#b2)"/>
</g>
<clipPath id="cp14"><rect x="103.3" y="436.9" width="129.5" height="16.900000000000034"/></clipPath><g clip-path="url(#cp14)">
<rect x="109.00" y="445.85" width="6.0" height="3.3" rx="1.25" fill="#000" opacity="0.85" filter="url(#b1)"/>
<rect x="109.70" y="446.50" width="4.6" height="2.0" rx="0.76" fill="#000" opacity="0.65" filter="url(#b0)"/>
<rect x="116.40" y="445.05" width="8.4" height="3.3" rx="1.25" fill="#000" opacity="1.00" filter="url(#b1)"/>
<rect x="117.10" y="445.70" width="7.0" height="2.0" rx="0.76" fill="#000" opacity="0.65" filter="url(#b0)"/>
<rect x="125.40" y="445.05" width="8.4" height="3.3" rx="1.25" fill="#000" opacity="1.00" filter="url(#b1)"/>
<rect x="126.10" y="445.70" width="7.0" height="2.0" rx="0.76" fill="#000" opacity="0.65" filter="url(#b0)"/>
<rect x="134.80" y="444.55" width="8.4" height="3.3" rx="1.25" fill="#000" opacity="1.00" filter="url(#b1)"/>
<rect x="135.50" y="445.20" width="7.0" height="2.0" rx="0.76" fill="#000" opacity="0.65" filter="url(#b0)"/>
<rect x="144.30" y="444.75" width="8.4" height="3.3" rx="1.25" fill="#000" opacity="1.00" filter="url(#b1)"/>
<rect x="145.00" y="445.40" width="7.0" height="2.0" rx="0.76" fill="#000" opacity="0.65" filter="url(#b0)"/>
<rect x="153.70" y="444.65" width="8.4" height="3.3" rx="1.25" fill="#000" opacity="1.00" filter="url(#b1)"/>
<rect x="154.40" y="445.30" width="7.0" height="2.0" rx="0.76" fill="#000" opacity="0.65" filter="url(#b0)"/>
<rect x="163.10" y="444.55" width="8.4" height="3.3" rx="1.25" fill="#000" opacity="1.00" filter="url(#b1)"/>
<rect x="163.80" y="445.20" width="7.0" height="2.0" rx="0.76" fill="#000" opacity="0.65" filter="url(#b0)"/>
<rect x="172.50" y="444.55" width="8.4" height="3.3" rx="1.25" fill="#000" opacity="1.00" filter="url(#b1)"/>
<rect x="173.20" y="445.20" width="7.0" height="2.0" rx="0.76" fill="#000" opacity="0.65" filter="url(#b0)"/>
<rect x="181.80" y="444.05" width="8.4" height="3.3" rx="1.25" fill="#000" opacity="1.00" filter="url(#b1)"/>
<rect x="182.50" y="444.70" width="7.0" height="2.0" rx="0.76" fill="#000" opacity="0.65" filter="url(#b0)"/>
<rect x="192.20" y="443.55" width="8.4" height="3.3" rx="1.25" fill="#000" opacity="1.00" filter="url(#b1)"/>
<rect x="192.90" y="444.20" width="7.0" height="2.0" rx="0.76" fill="#000" opacity="0.65" filter="url(#b0)"/>
<rect x="202.20" y="442.65" width="8.4" height="3.3" rx="1.25" fill="#000" opacity="1.00" filter="url(#b1)"/>
<rect x="202.90" y="443.30" width="7.0" height="2.0" rx="0.76" fill="#000" opacity="0.65" filter="url(#b0)"/>
<rect x="211.60" y="442.45" width="8.4" height="3.3" rx="1.25" fill="#000" opacity="1.00" filter="url(#b1)"/>
<rect x="212.30" y="443.10" width="7.0" height="2.0" rx="0.76" fill="#000" opacity="0.65" filter="url(#b0)"/>
<rect x="221.00" y="442.65" width="8.4" height="3.3" rx="1.25" fill="#000" opacity="1.00" filter="url(#b1)"/>
<rect x="221.70" y="443.30" width="7.0" height="2.0" rx="0.76" fill="#000" opacity="0.65" filter="url(#b0)"/>
<rect x="103.60" y="438.50" width="1.6" height="2.0" rx="0.61" fill="#000" opacity="0.45" filter="url(#b0)"/>
<rect x="103.60" y="446.00" width="1.6" height="2.0" rx="0.61" fill="#000" opacity="0.45" filter="url(#b0)"/>
</g>
<clipPath id="cp15"><rect x="31.4" y="459.2" width="70.1" height="18.100000000000023"/></clipPath><g clip-path="url(#cp15)">
<rect x="33.20" y="466.50" width="8.6" height="3.8" rx="1.44" fill="#000" opacity="1.00" filter="url(#b1)"/>
<rect x="33.90" y="467.30" width="7.2" height="2.2" rx="0.84" fill="#000" opacity="0.50" filter="url(#b0)"/>
<rect x="43.20" y="466.82" width="8.6" height="3.8" rx="1.44" fill="#000" opacity="0.95" filter="url(#b1)"/>
<rect x="43.90" y="467.62" width="7.2" height="2.2" rx="0.84" fill="#000" opacity="0.47" filter="url(#b0)"/>
<rect x="53.30" y="467.14" width="8.6" height="3.8" rx="1.44" fill="#000" opacity="0.85" filter="url(#b1)"/>
<rect x="54.00" y="467.94" width="7.2" height="2.2" rx="0.84" fill="#000" opacity="0.42" filter="url(#b0)"/>
<rect x="63.00" y="467.46" width="8.6" height="3.8" rx="1.44" fill="#000" opacity="0.75" filter="url(#b1)"/>
<rect x="63.70" y="468.26" width="7.2" height="2.2" rx="0.84" fill="#000" opacity="0.38" filter="url(#b0)"/>
<rect x="72.80" y="467.78" width="8.6" height="3.8" rx="1.44" fill="#000" opacity="0.80" filter="url(#b1)"/>
<rect x="73.50" y="468.58" width="7.2" height="2.2" rx="0.84" fill="#000" opacity="0.40" filter="url(#b0)"/>
<rect x="82.50" y="468.10" width="8.6" height="3.8" rx="1.44" fill="#000" opacity="0.85" filter="url(#b1)"/>
<rect x="83.20" y="468.90" width="7.2" height="2.2" rx="0.84" fill="#000" opacity="0.42" filter="url(#b0)"/>
<rect x="92.10" y="468.42" width="8.6" height="3.8" rx="1.44" fill="#000" opacity="0.85" filter="url(#b1)"/>
<rect x="92.80" y="469.22" width="7.2" height="2.2" rx="0.84" fill="#000" opacity="0.42" filter="url(#b0)"/>
</g>
<clipPath id="cp16"><rect x="103.3" y="459.2" width="129.5" height="18.100000000000023"/></clipPath><g clip-path="url(#cp16)">
<rect x="107.55" y="468.55" width="8.9" height="3.9" rx="1.48" fill="#000" opacity="1.00" filter="url(#b1)"/>
<rect x="108.20" y="469.30" width="7.6" height="2.4" rx="0.91" fill="#000" opacity="0.65" filter="url(#b0)"/>
<rect x="116.15" y="468.55" width="8.9" height="3.9" rx="1.48" fill="#000" opacity="1.00" filter="url(#b1)"/>
<rect x="116.80" y="469.30" width="7.6" height="2.4" rx="0.91" fill="#000" opacity="0.65" filter="url(#b0)"/>
<rect x="125.15" y="468.55" width="8.9" height="3.9" rx="1.48" fill="#000" opacity="1.00" filter="url(#b1)"/>
<rect x="125.80" y="469.30" width="7.6" height="2.4" rx="0.91" fill="#000" opacity="0.65" filter="url(#b0)"/>
<rect x="134.55" y="468.55" width="8.9" height="3.9" rx="1.48" fill="#000" opacity="1.00" filter="url(#b1)"/>
<rect x="135.20" y="469.30" width="7.6" height="2.4" rx="0.91" fill="#000" opacity="0.65" filter="url(#b0)"/>
<rect x="144.05" y="468.55" width="8.9" height="3.9" rx="1.48" fill="#000" opacity="1.00" filter="url(#b1)"/>
<rect x="144.70" y="469.30" width="7.6" height="2.4" rx="0.91" fill="#000" opacity="0.65" filter="url(#b0)"/>
<rect x="153.45" y="468.55" width="8.9" height="3.9" rx="1.48" fill="#000" opacity="1.00" filter="url(#b1)"/>
<rect x="154.10" y="469.30" width="7.6" height="2.4" rx="0.91" fill="#000" opacity="0.65" filter="url(#b0)"/>
<rect x="162.85" y="468.55" width="8.9" height="3.9" rx="1.48" fill="#000" opacity="1.00" filter="url(#b1)"/>
<rect x="163.50" y="469.30" width="7.6" height="2.4" rx="0.91" fill="#000" opacity="0.65" filter="url(#b0)"/>
<rect x="172.25" y="468.55" width="8.9" height="3.9" rx="1.48" fill="#000" opacity="1.00" filter="url(#b1)"/>
<rect x="172.90" y="469.30" width="7.6" height="2.4" rx="0.91" fill="#000" opacity="0.65" filter="url(#b0)"/>
<rect x="181.55" y="468.55" width="8.9" height="3.9" rx="1.48" fill="#000" opacity="1.00" filter="url(#b1)"/>
<rect x="182.20" y="469.30" width="7.6" height="2.4" rx="0.91" fill="#000" opacity="0.65" filter="url(#b0)"/>
<rect x="191.95" y="468.55" width="8.9" height="3.9" rx="1.48" fill="#000" opacity="1.00" filter="url(#b1)"/>
<rect x="192.60" y="469.30" width="7.6" height="2.4" rx="0.91" fill="#000" opacity="0.65" filter="url(#b0)"/>
<rect x="201.95" y="468.55" width="8.9" height="3.9" rx="1.48" fill="#000" opacity="1.00" filter="url(#b1)"/>
<rect x="202.60" y="469.30" width="7.6" height="2.4" rx="0.91" fill="#000" opacity="0.65" filter="url(#b0)"/>
<rect x="211.35" y="468.55" width="8.9" height="3.9" rx="1.48" fill="#000" opacity="1.00" filter="url(#b1)"/>
<rect x="212.00" y="469.30" width="7.6" height="2.4" rx="0.91" fill="#000" opacity="0.65" filter="url(#b0)"/>
<rect x="220.75" y="468.55" width="8.9" height="3.9" rx="1.48" fill="#000" opacity="1.00" filter="url(#b1)"/>
<rect x="221.40" y="469.30" width="7.6" height="2.4" rx="0.91" fill="#000" opacity="0.65" filter="url(#b0)"/>
<rect x="103.60" y="468.00" width="1.6" height="2.0" rx="0.61" fill="#000" opacity="0.40" filter="url(#b0)"/>
</g>
<rect x="31.4" y="385.2" width="70.1" height="25.600000000000023" fill="none" stroke="#3a3a3a" stroke-width="0.95"/>
<rect x="103.3" y="385.2" width="129.5" height="25.600000000000023" fill="none" stroke="#3a3a3a" stroke-width="0.95"/>
<rect x="31.4" y="413.8" width="70.1" height="18.399999999999977" fill="none" stroke="#3a3a3a" stroke-width="0.95"/>
<rect x="103.3" y="413.8" width="129.5" height="18.399999999999977" fill="none" stroke="#3a3a3a" stroke-width="0.95"/>
<rect x="31.4" y="436.9" width="70.1" height="16.900000000000034" fill="none" stroke="#3a3a3a" stroke-width="0.95"/>
<rect x="103.3" y="436.9" width="129.5" height="16.900000000000034" fill="none" stroke="#3a3a3a" stroke-width="0.95"/>
<rect x="31.4" y="459.2" width="70.1" height="18.100000000000023" fill="none" stroke="#3a3a3a" stroke-width="0.95"/>
<rect x="103.3" y="459.2" width="129.5" height="18.100000000000023" fill="none" stroke="#3a3a3a" stroke-width="0.95"/>
<text x="235.5" y="401" font-size="6.5" fill="#231f20">IL4R</text>
<text x="235.5" y="426.6" font-size="6.5" fill="#231f20">pSTAT6</text>
<text x="235.5" y="447.6" font-size="6.5" fill="#231f20">STAT6</text>
<text x="235.5" y="468.4" font-size="6.5" fill="#231f20">GAPDH</text>
</g></svg></body></html>
